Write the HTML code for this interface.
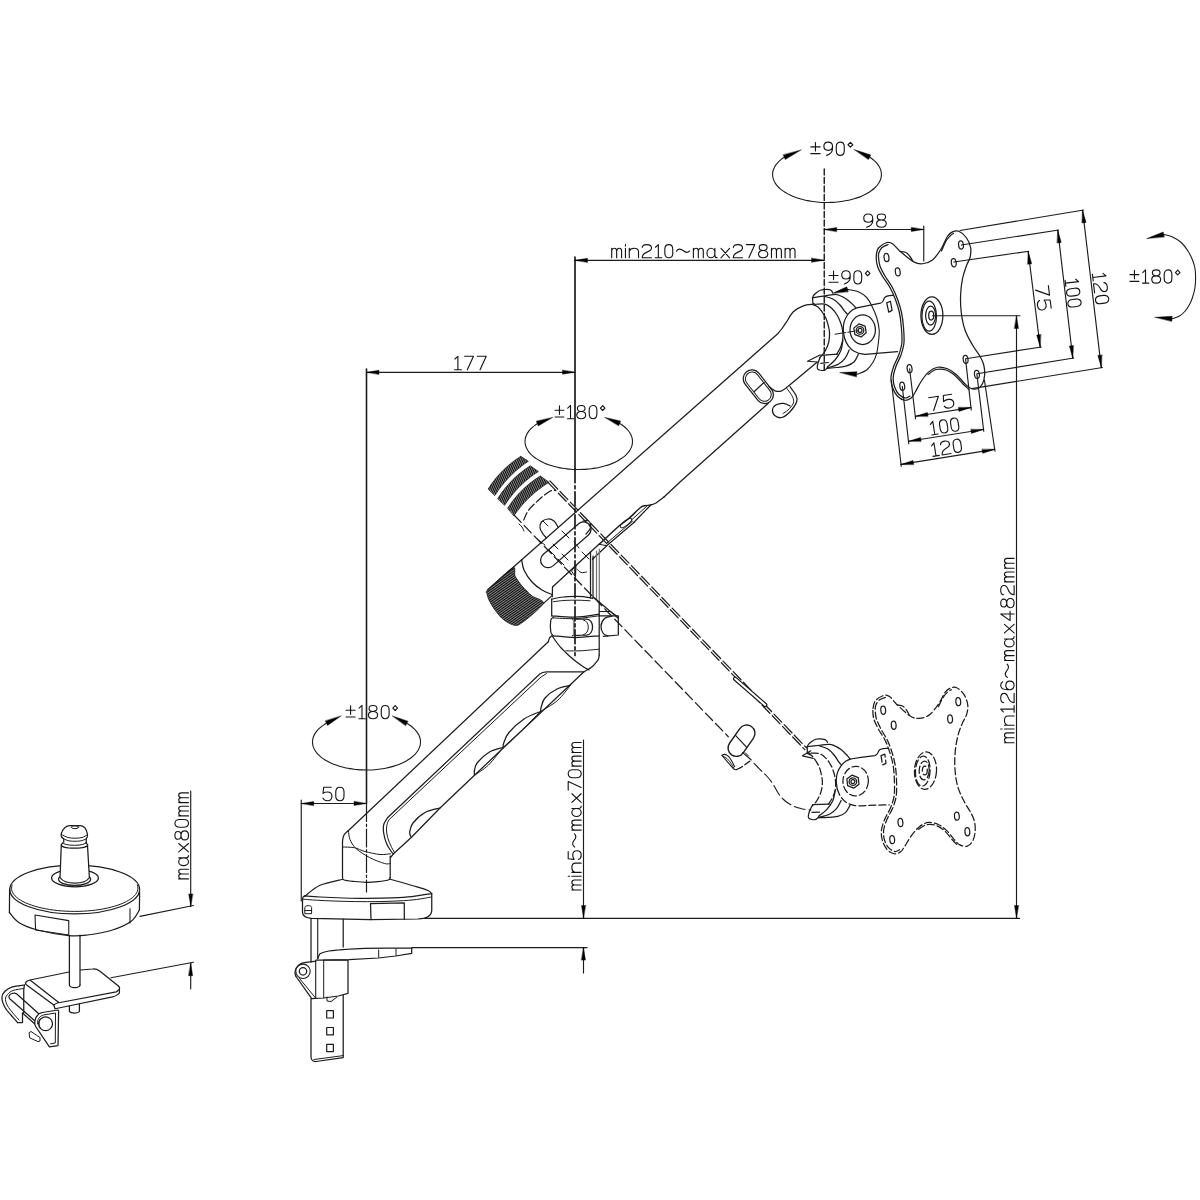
<!DOCTYPE html>
<html><head><meta charset="utf-8"><title>Monitor arm dimensions</title>
<style>html,body{margin:0;padding:0;background:#fff;font-family:"Liberation Sans",sans-serif}svg{display:block}</style>
</head><body>
<svg width="1200" height="1200" viewBox="0 0 1200 1200" stroke-linecap="round" stroke-linejoin="round">
<rect width="1200" height="1200" fill="#fff"/>
<defs><pattern id="kn1" width="2" height="6" patternUnits="userSpaceOnUse" patternTransform="rotate(-25)"><rect width="2" height="6" fill="#fff"/><rect width="1.5" height="6" fill="#0a0a0a"/></pattern><pattern id="kn2" width="2" height="6" patternUnits="userSpaceOnUse" patternTransform="rotate(55)"><rect width="2" height="6" fill="#fff"/><rect width="1.5" height="6" fill="#0a0a0a"/></pattern></defs>
<path d="M548.2,482.6 L804.8,749.6" fill="none" stroke="#1c1c1c" stroke-width="1.25" stroke-dasharray="11.2 3.5" />
<path d="M549.9,480.9 L806.5,747.9" fill="none" stroke="#1c1c1c" stroke-width="1.25" stroke-dasharray="11.2 3.5" />
<path d="M514,515 L728.3,736.7" fill="none" stroke="#1c1c1c" stroke-width="1.25" stroke-dasharray="10.3 4.2" />
<path d="M754,763.3 C755.17,764.5 758.88,768.38 761,770.5 C763.12,772.62 764.7,773.75 766.7,776 C768.7,778.25 771.07,781.12 773,784 C774.93,786.88 776.63,790.8 778.3,793.3 C779.97,795.8 781.33,797.33 783,799 C784.67,800.67 786.47,802.08 788.3,803.3 C790.13,804.52 792.05,805.47 794,806.3 C795.95,807.13 798,807.75 800,808.3 C802,808.85 804.2,809.32 806,809.6 C807.8,809.88 810,809.93 810.8,810" fill="none" stroke="#1c1c1c" stroke-width="1.1" stroke-dasharray="11 4" />
<path d="M-19.9,-1.6 L19.9,-1.6 A1.6,1.6 0 0 1 19.9,1.6 L-19.9,1.6 A1.6,1.6 0 0 1 -19.9,-1.6 Z" fill="#fff" stroke="#1c1c1c" stroke-width="1.2" transform="translate(750.2 691.9) rotate(41)"/>
<path d="M-8.95,-8.35 L8.95,-8.35 A8.35,8.35 0 0 1 8.95,8.35 L-8.95,8.35 A8.35,8.35 0 0 1 -8.95,-8.35 Z" fill="#fff" stroke="#1c1c1c" stroke-width="1.4" transform="translate(741.5 740.7) rotate(-55)"/>
<path d="M735.7,735.7 L746.7,747.3" fill="none" stroke="#1c1c1c" stroke-width="1.2" />
<path d="M722,755.3 L733.3,768.7 C735,770 736.5,769.8 737.3,769.3" fill="none" stroke="#1c1c1c" stroke-width="1.1" />
<path d="M722,755.3 C725,753 728.5,755.5 730.7,759.3 C732.5,762 733.5,764.5 734.7,766.7" fill="none" stroke="#1c1c1c" stroke-width="1.1" />
<path d="M723.3,756.5 C727,757 730.5,762 733.8,768" fill="none" stroke="#1c1c1c" stroke-width="0.9" />
<path d="M737.3,769.3 C738.2,768.8 740.37,767.85 742.7,766.3 C745.03,764.75 749.87,761.05 751.3,760" fill="none" stroke="#1c1c1c" stroke-width="1.2" stroke-dasharray="6 3" />
<path d="M742.7,752.7 L746.7,756 L751.3,760" fill="none" stroke="#1c1c1c" stroke-width="1.1" />
<path d="M745.3,752.7 L748.5,756" fill="none" stroke="#1c1c1c" stroke-width="1" />
<g transform="translate(-6.4 455) rotate(3 931.5 315.6)"><path d="M812.5,304.4 C813.42,304.83 816.33,305.65 818,307 C819.67,308.35 821.17,310.58 822.5,312.5 C823.83,314.42 825.07,316.42 826,318.5 C826.93,320.58 827.53,322.92 828.1,325 C828.67,327.08 829.18,328.92 829.4,331 C829.62,333.08 829.53,335.58 829.4,337.5 C829.27,339.42 829.02,340.83 828.6,342.5 C828.18,344.17 827.63,345.83 826.9,347.5 C826.17,349.17 825.35,350.83 824.2,352.5 C823.05,354.17 820.7,356.67 820,357.5" fill="none" stroke="#1c1c1c" stroke-width="1.25" stroke-dasharray="7 3" />
<path d="M812.5,297.9 C812.75,297.42 813.3,295.9 814,295 C814.7,294.1 815.57,293.33 816.7,292.5 C817.83,291.67 819.42,290.5 820.8,290 C822.18,289.5 823.6,289.57 825,289.5 C826.4,289.43 828.12,289.38 829.2,289.6 C830.28,289.82 830.95,290.32 831.5,290.8 C832.05,291.28 832.33,292.22 832.5,292.5" fill="none" stroke="#1c1c1c" stroke-width="1.25" />
<path d="M812.5,297.9 C814.58,297.55 821.53,296.35 825,295.8 C828.47,295.25 831.08,294.73 833.3,294.6 C835.52,294.47 836.07,294.23 838.3,295 C840.53,295.77 844.2,297.53 846.7,299.2 C849.2,300.87 851.78,303.55 853.3,305 C854.82,306.45 855.38,307.42 855.8,307.9" fill="none" stroke="#1c1c1c" stroke-width="1.25" />
<path d="M812.5,297.9 L812.9,303.3 L815.8,304.6" fill="none" stroke="#1c1c1c" stroke-width="1.25" />
<path d="M824.2,296.25 C825.72,296.74 830.67,297.74 833.3,299.2 C835.93,300.66 838.05,302.92 840,305 C841.95,307.08 843.75,310.17 845,311.7 C846.25,313.23 847.08,313.78 847.5,314.2" fill="none" stroke="#1c1c1c" stroke-width="1.25" />
<path d="M816.7,304.2 C818.08,304.2 822.5,303.52 825,304.2 C827.5,304.88 829.62,306.37 831.7,308.3 C833.78,310.23 835.98,313.3 837.5,315.8 C839.02,318.3 839.97,320.93 840.8,323.3 C841.63,325.67 842.15,327.5 842.5,330 C842.85,332.5 843.18,335.52 842.9,338.3 C842.62,341.08 841.83,344.05 840.8,346.7 C839.77,349.35 837.38,352.95 836.7,354.2" fill="none" stroke="#1c1c1c" stroke-width="1.25" stroke-dasharray="7 3" />
<path d="M820.8,355.4 L837.5,354.2" fill="none" stroke="#1c1c1c" stroke-width="1.25" />
<path d="M858.3,354.2 C857.62,355.45 856.13,359.77 854.2,361.7 C852.27,363.63 849.62,364.83 846.7,365.8 C843.78,366.77 839.9,367.08 836.7,367.5 C833.5,367.92 829.03,368.17 827.5,368.3" fill="none" stroke="#1c1c1c" stroke-width="1.25" />
<path d="M849.2,350 C848.5,351.38 846.82,355.93 845,358.3 C843.18,360.67 841.22,362.6 838.3,364.2 C835.38,365.8 829.3,367.28 827.5,367.9" fill="none" stroke="#1c1c1c" stroke-width="1.25" />
<path d="M842.9,340 C842.55,341.8 842.12,347.47 840.8,350.8 C839.48,354.13 837.22,357.35 835,360 C832.78,362.65 828.75,365.58 827.5,366.7" fill="none" stroke="#1c1c1c" stroke-width="1.25" />
<path d="M820,357.5 C819.58,358.75 817.85,363.05 817.5,365 C817.15,366.95 816.78,368.3 817.9,369.2 C819.02,370.1 822.6,370.68 824.2,370.4 C825.8,370.12 826.95,367.98 827.5,367.5" fill="none" stroke="#1c1c1c" stroke-width="1.25" />
<path d="M820.8,363.3 L828.3,362.5" fill="none" stroke="#1c1c1c" stroke-width="1.25" />
<path d="M816.32,301.81 L808.29,307.24 L819.21,309.17" fill="none" stroke="#1c1c1c" stroke-width="1.25" />
<path d="M897,295.4 L892.5,295.4 C888,295.4 885.5,296 884.2,298.3 C883.3,300.5 883.3,302.4 880.5,303.2 L866.7,305.8 L856.7,307.9 C855.87,308.32 853.23,309.22 851.7,310.4 C850.17,311.58 848.75,313.12 847.5,315 C846.25,316.88 844.9,319.2 844.2,321.7 C843.5,324.2 843.23,327.23 843.3,330 C843.37,332.77 843.77,335.67 844.6,338.3 C845.43,340.93 846.7,343.64 848.3,345.8 C849.9,347.96 851.7,349.85 854.2,351.25 C856.7,352.65 859.55,353.86 863.3,354.2 C867.05,354.54 874.47,353.45 876.7,353.3 L897.5,351.7" fill="#fff" stroke="none" stroke-width="0" />
<path d="M897,295.4 L892.5,295.4 C888,295.4 885.5,296 884.2,298.3 C883.3,300.5 883.3,302.4 880.5,303.2 L866.7,305.8 L856.7,307.9" fill="none" stroke="#1c1c1c" stroke-width="1.25" />
<path d="M856.7,307.9 C855.87,308.32 853.23,309.22 851.7,310.4 C850.17,311.58 848.75,313.12 847.5,315 C846.25,316.88 844.9,319.2 844.2,321.7 C843.5,324.2 843.23,327.23 843.3,330 C843.37,332.77 844.38,336.92 844.6,338.3" fill="none" stroke="#1c1c1c" stroke-width="1.25" />
<path d="M844.6,338.3 C845.22,339.55 846.7,343.64 848.3,345.8 C849.9,347.96 851.7,349.85 854.2,351.25 C856.7,352.65 859.55,353.86 863.3,354.2 C867.05,354.54 874.47,353.45 876.7,353.3 L897.5,351.7" fill="none" stroke="#1c1c1c" stroke-width="1.25" stroke-dasharray="7 3" />
<path d="M886.7,302.9 L890.4,301.25 L892.1,310.4 L888.75,312.1 L886.7,302.9" fill="none" stroke="#1c1c1c" stroke-width="1.25" stroke-dasharray="7 3" />
<path d="M876.25,256.25 C876.42,253.21 876.73,250.29 878.5,248 C880.27,245.71 884.57,243.21 886.9,242.5 C889.23,241.79 890.32,242.29 892.5,243.75 C894.68,245.21 896.46,248.22 900,251.25 C903.54,254.28 910,259.82 913.75,261.9 C917.5,263.98 919.38,264.07 922.5,263.75 C925.62,263.43 929.38,262.5 932.5,260 C935.62,257.5 938.75,252.71 941.25,248.75 C943.75,244.79 945.62,239.06 947.5,236.25 C949.38,233.44 950.62,232.73 952.5,231.9 C954.38,231.07 956.46,230.32 958.75,231.25 C961.04,232.18 964.27,234.79 966.25,237.5 C968.23,240.21 969.98,244.17 970.6,247.5 C971.23,250.83 970.73,254.38 970,257.5 C969.27,260.62 967.5,262.71 966.25,266.25 C965,269.79 963.44,273.96 962.5,278.75 C961.56,283.54 960.81,289.38 960.6,295 C960.39,300.62 960.52,306.67 961.25,312.5 C961.98,318.33 963.12,324.58 965,330 C966.88,335.42 970,340.62 972.5,345 C975,349.38 978.12,352.92 980,356.25 C981.88,359.58 982.98,361.88 983.75,365 C984.52,368.12 984.81,371.88 984.6,375 C984.39,378.12 983.68,381.46 982.5,383.75 C981.32,386.04 979.58,388.04 977.5,388.75 C975.42,389.46 972.29,389.04 970,388 C967.71,386.96 966.04,384.77 963.75,382.5 C961.46,380.23 958.96,376.69 956.25,374.4 C953.54,372.11 950.62,369.94 947.5,368.75 C944.38,367.56 940.62,366.73 937.5,367.25 C934.38,367.77 931.46,369.57 928.75,371.9 C926.04,374.23 923.54,377.82 921.25,381.25 C918.96,384.68 916.67,389.71 915,392.5 C913.33,395.29 912.92,396.71 911.25,398 C909.58,399.29 907.29,400.54 905,400.25 C902.71,399.96 899.58,398.38 897.5,396.25 C895.42,394.12 893.58,390.62 892.5,387.5 C891.42,384.38 890.79,381.04 891,377.5 C891.21,373.96 892.46,370 893.75,366.25 C895.04,362.5 897.39,358.96 898.75,355 C900.11,351.04 901.48,347.29 901.9,342.5 C902.32,337.71 901.67,331.25 901.25,326.25 C900.83,321.25 900.34,316.88 899.4,312.5 C898.46,308.12 897.17,304.17 895.6,300 C894.03,295.83 892.18,291.46 890,287.5 C887.82,283.54 884.58,279.79 882.5,276.25 C880.42,272.71 878.54,269.58 877.5,266.25 C876.46,262.92 876.08,259.29 876.25,256.25 Z" fill="#fff" stroke="#1c1c1c" stroke-width="1.25" stroke-dasharray="7 3" />
<path d="M888,244.6 C887,245.08 883.53,246.1 882,247.5 C880.47,248.9 879.37,251.25 878.8,253 C878.23,254.75 878.4,255.83 878.6,258 C878.8,260.17 878.93,263 880,266 C881.07,269 882.93,272.42 885,276 C887.07,279.58 890.27,283.5 892.4,287.5 C894.53,291.5 896.28,295.83 897.8,300 C899.32,304.17 900.57,308.12 901.5,312.5 C902.43,316.88 902.98,321.25 903.4,326.25 C903.82,331.25 904.4,337.71 904,342.5 C903.6,347.29 902.33,351.04 901,355 C899.67,358.96 897.3,362.5 896,366.25 C894.7,370 893.43,374.04 893.2,377.5 C892.97,380.96 893.63,384.17 894.6,387 C895.57,389.83 897.18,392.67 899,394.5 C900.82,396.33 903.67,397.75 905.5,398 C907.33,398.25 909.25,396.33 910,396" fill="none" stroke="#1c1c1c" stroke-width="1.25" stroke-dasharray="7 3" />
<path d="M941.5,251 C942.25,249.33 944.58,243.5 946,241 C947.42,238.5 948.75,237.27 950,236 C951.25,234.73 952.92,233.83 953.5,233.4" fill="none" stroke="#1c1c1c" stroke-width="1.25" stroke-dasharray="7 3" />
<path d="M928,374.5 C929.33,373.67 933,370.25 936,369.5 C939,368.75 942.83,369 946,370 C949.17,371 952.25,373.25 955,375.5 C957.75,377.75 960.17,381.17 962.5,383.5 C964.83,385.83 967.92,388.5 969,389.5" fill="none" stroke="#1c1c1c" stroke-width="1.25" stroke-dasharray="7 3" />
<path d="M900.5,251.5 C901.42,251.67 904.42,251.67 906,252.5 C907.58,253.33 908.87,255.08 910,256.5 C911.13,257.92 912.33,260.25 912.8,261" fill="none" stroke="#1c1c1c" stroke-width="1.25" stroke-dasharray="7 3" />
<ellipse cx="886.5" cy="257.5" rx="2.4" ry="4.1" fill="none" stroke="#1c1c1c" stroke-width="1.25" transform="rotate(-8 886.5 257.5)"/>
<ellipse cx="897.75" cy="271.9" rx="2.4" ry="4.1" fill="none" stroke="#1c1c1c" stroke-width="1.25" transform="rotate(-8 897.75 271.9)"/>
<ellipse cx="961" cy="245" rx="2.4" ry="4.1" fill="none" stroke="#1c1c1c" stroke-width="1.25" transform="rotate(-8 961 245)"/>
<ellipse cx="953.75" cy="262.75" rx="2.4" ry="4.1" fill="none" stroke="#1c1c1c" stroke-width="1.25" transform="rotate(-8 953.75 262.75)"/>
<ellipse cx="902.25" cy="386.25" rx="2.4" ry="4.1" fill="none" stroke="#1c1c1c" stroke-width="1.25" transform="rotate(-8 902.25 386.25)"/>
<ellipse cx="909.6" cy="368.75" rx="2.4" ry="4.1" fill="none" stroke="#1c1c1c" stroke-width="1.25" transform="rotate(-8 909.6 368.75)"/>
<ellipse cx="965.6" cy="359.4" rx="2.4" ry="4.1" fill="none" stroke="#1c1c1c" stroke-width="1.25" transform="rotate(-8 965.6 359.4)"/>
<ellipse cx="976.9" cy="374.4" rx="2.4" ry="4.1" fill="none" stroke="#1c1c1c" stroke-width="1.25" transform="rotate(-8 976.9 374.4)"/>
<ellipse cx="931.9" cy="315.6" rx="11" ry="18.7" fill="none" stroke="#1c1c1c" stroke-width="1.25" stroke-dasharray="7 3"/>
<ellipse cx="929.2" cy="316.2" rx="7.3" ry="15" fill="none" stroke="#1c1c1c" stroke-width="1.25" stroke-dasharray="7 3"/>
<ellipse cx="930.6" cy="315.6" rx="5" ry="9.4" fill="none" stroke="#1c1c1c" stroke-width="1.25" stroke-dasharray="7 3"/>
<ellipse cx="931.2" cy="315.6" rx="2.5" ry="4.4" fill="none" stroke="#1c1c1c" stroke-width="1.25" stroke-dasharray="7 3"/>
<ellipse cx="862.7" cy="329.75" rx="12.7" ry="14.8" fill="none" stroke="#1c1c1c" stroke-width="1.25" stroke-dasharray="7 3"/>
<path d="M866.2,332.66 L861.15,336.9 L854.94,334.64 L853.8,328.14 L858.85,323.9 L865.06,326.16 Z" fill="none" stroke="#1c1c1c" stroke-width="1.25" />
<ellipse cx="860" cy="330.4" rx="3.8" ry="3.8" fill="none" stroke="#1c1c1c" stroke-width="1.25"/>
<ellipse cx="860" cy="330.4" rx="2" ry="2" fill="none" stroke="#1c1c1c" stroke-width="1.25"/></g>
<path d="M521.7,559.8 L778,333.5 C778.67,332.67 780.55,330.47 782,328.5 C783.45,326.53 784.82,324.5 786.7,321.7 C788.58,318.9 790.53,314.35 793.3,311.7 C796.07,309.05 799.97,307.05 803.3,305.8 C806.63,304.55 811.63,304.47 813.3,304.2" fill="none" stroke="#1c1c1c" stroke-width="1.25" />
<path d="M816.7,362.5 L788.5,386" fill="none" stroke="#1c1c1c" stroke-width="1.25" />
<path d="M768.3,403.3 L680,482 L664,497" fill="none" stroke="#1c1c1c" stroke-width="1.25" />
<path d="M664,497 C663.33,497.5 661.33,499 660,500 C658.67,501 657.25,502.25 656,503 C654.75,503.75 653.08,504.25 652.5,504.5" fill="none" stroke="#1c1c1c" stroke-width="1.25" />
<path d="M652.5,504.5 C651.75,504.65 649.25,505.22 648,505.4 C646.75,505.58 645.5,505.57 645,505.6" fill="none" stroke="#1c1c1c" stroke-width="1.25" />
<path d="M645,505.6 C644.25,505.92 643.25,505.31 640.5,507.5 C637.75,509.69 632.12,515.62 628.5,518.75 C624.88,521.88 623.62,522 618.75,526.25 C613.88,530.5 602.5,541.25 599.25,544.25" fill="none" stroke="#1c1c1c" stroke-width="1.5" />
<path d="M647,506 L631.5,520" fill="none" stroke="#1c1c1c" stroke-width="1" />
<path d="M651,504.8 L633.75,522.5" fill="none" stroke="#1c1c1c" stroke-width="1.25" />
<path d="M634.5,522 L607.5,545 L592.5,559.25" fill="none" stroke="#1c1c1c" stroke-width="1.2" />
<path d="M632.5,521.2 L606,543.8" fill="none" stroke="#1c1c1c" stroke-width="1" />
<ellipse cx="626" cy="523" rx="7" ry="2.3" fill="none" stroke="#1c1c1c" stroke-width="1" transform="rotate(-38 626 523)"/>
<path d="M599.25,544.25 L606.75,545.75" fill="none" stroke="#1c1c1c" stroke-width="1" />
<path d="M552.5,587 L599.5,543.8" fill="none" stroke="#1c1c1c" stroke-width="1.25" />
<path d="M-10.25,-8.75 L10.25,-8.75 A8.75,8.75 0 0 1 10.25,8.75 L-10.25,8.75 A8.75,8.75 0 0 1 -10.25,-8.75 Z" fill="#fff" stroke="#1c1c1c" stroke-width="1.25" transform="translate(758.3 386.7) rotate(52)"/>
<path d="M-10,-6.75 L10,-6.75 A6.75,6.75 0 0 1 10,6.75 L-10,6.75 A6.75,6.75 0 0 1 -10,-6.75 Z" fill="none" stroke="#1c1c1c" stroke-width="1" transform="translate(758.3 386.7) rotate(52)"/>
<path d="M754,391.7 L764,382.5" fill="none" stroke="#1c1c1c" stroke-width="1.25" />
<path d="M769,386.7 C770,387.38 772.88,390.12 775,390.8 C777.12,391.48 779.62,391.48 781.7,390.8 C783.78,390.12 786.53,387.38 787.5,386.7" fill="none" stroke="#1c1c1c" stroke-width="1.25" />
<path d="M790,386.7 C790.97,388.08 794.68,392.5 795.8,395 C796.92,397.5 797.67,398.92 796.7,401.7 C795.73,404.48 792.5,409.07 790,411.7 C787.5,414.33 784.2,416.82 781.7,417.5 C779.2,418.18 776.53,417.05 775,415.8 C773.47,414.55 772.37,411.8 772.5,410 C772.63,408.2 774,406.12 775.8,405 C777.6,403.88 780.93,403.17 783.3,403.3 C785.67,403.43 788.88,405.38 790,405.8" fill="none" stroke="#1c1c1c" stroke-width="1.25" />
<path d="M786.7,388.3 C787.67,389.7 791.4,394.2 792.5,396.7 C793.6,399.2 794.05,401.08 793.3,403.3 C792.55,405.52 789.72,408.3 788,410 C786.28,411.7 783.83,412.92 783,413.5" fill="none" stroke="#1c1c1c" stroke-width="1" />
<path d="M548.3,641.7 L348.5,830.5" fill="none" stroke="#1c1c1c" stroke-width="1.25" />
<path d="M348.5,830.5 C347.75,831.25 345,833.25 344,835 C343,836.75 342.75,840 342.5,841" fill="none" stroke="#1c1c1c" stroke-width="1.25" />
<path d="M584,671.75 L546.5,671.75 C542,671.75 541,673 539,674.75 L387.5,817.75 C386.88,818.88 384.38,821.88 383.75,824.5 C383.12,827.12 383.25,830.25 383.75,833.5 C384.25,836.75 385.5,841 386.75,844 C388,847 390.12,849.88 391.25,851.5 C392.38,853.12 393.12,853.38 393.5,853.75" fill="none" stroke="#1c1c1c" stroke-width="1.25" />
<path d="M546.5,673.6 L541,677 L389.2,819.5 C384.5,826 385.5,838 394.5,852.6" fill="none" stroke="#1c1c1c" stroke-width="1" />
<path d="M590,668.3 L584,671.75 L474.5,775.25 L440,808 L411.5,837.25 L393.5,853.75 L390.5,857.5" fill="none" stroke="#1c1c1c" stroke-width="1.25" />
<path d="M570.5,685.25 C568.25,685.88 561.25,686.88 557,689 C552.75,691.12 547.62,695 545,698 C542.38,701 542,704.75 541.25,707 C540.5,709.25 540.62,710.75 540.5,711.5" fill="none" stroke="#1c1c1c" stroke-width="1.25" />
<path d="M540.5,711.5 C537.75,712.75 529.25,715.5 524,719 C518.75,722.5 512.38,728.5 509,732.5 C505.62,736.5 504.75,740.5 503.75,743 C502.75,745.5 503.12,746.75 503,747.5" fill="none" stroke="#1c1c1c" stroke-width="1.25" />
<path d="M503,747.5 C500.75,748.25 493.75,749.5 489.5,752 C485.25,754.5 480,759.5 477.5,762.5 C475,765.5 475,767.88 474.5,770 C474,772.12 474.5,774.38 474.5,775.25" fill="none" stroke="#1c1c1c" stroke-width="1.25" />
<path d="M440,808 C437.5,808.75 429.5,810 425,812.5 C420.5,815 415.55,819.75 413,823 C410.45,826.25 410.07,829.75 409.7,832 C409.32,834.25 410.57,835.75 410.75,836.5" fill="none" stroke="#1c1c1c" stroke-width="1.25" />
<path d="M570.5,685.25 C568.33,687.79 562.5,696.12 557.5,700.5 C552.5,704.88 543.33,709.67 540.5,711.5" fill="none" stroke="#1c1c1c" stroke-width="1" />
<path d="M540.5,711.5 C537.08,714.92 526.25,726 520,732 C513.75,738 505.83,744.92 503,747.5" fill="none" stroke="#1c1c1c" stroke-width="1" />
<path d="M503,747.5 C500.58,750.42 493.25,760.38 488.5,765 C483.75,769.62 476.83,773.54 474.5,775.25" fill="none" stroke="#1c1c1c" stroke-width="1" />
<path d="M342.5,841 L342.5,877" fill="none" stroke="#1c1c1c" stroke-width="1.25" />
<path d="M390.2,856 L390.2,877.75" fill="none" stroke="#1c1c1c" stroke-width="1.25" />
<path d="M342.5,877 C342.75,877.5 341.92,879.25 344,880 C346.08,880.75 351.25,881.12 355,881.5 C358.75,881.88 362.67,882.23 366.5,882.25 C370.33,882.27 374.38,881.98 378,881.6 C381.62,881.23 386.22,880.64 388.25,880 C390.28,879.36 389.88,878.12 390.2,877.75" fill="none" stroke="#1c1c1c" stroke-width="1.25" />
<path d="M342.5,847 C344.5,847.12 350.75,847 354.5,847.75 C358.25,848.5 360.75,850.38 365,851.5 C369.25,852.62 375.75,854.12 380,854.5 C384.25,854.88 388.75,853.88 390.5,853.75" fill="none" stroke="#1c1c1c" stroke-width="1" />
<path d="M348.5,831.25 C348.75,832.62 348.75,836.62 350,839.5 C351.25,842.38 352.75,845.5 356,848.5 C359.25,851.5 364.75,855 369.5,857.5 C374.25,860 381.05,862.5 384.5,863.5 C387.95,864.5 389.25,863.5 390.2,863.5" fill="none" stroke="#1c1c1c" stroke-width="1" />
<path d="M304.5,896.5 C307.08,894.62 313.67,888.12 320,885.25 C326.33,882.38 338.75,880.25 342.5,879.25" fill="none" stroke="#1c1c1c" stroke-width="1.25" />
<path d="M390.2,879.25 C394.17,880.38 407.7,884.12 414,886 C420.3,887.88 425.08,889.25 428,890.5 C430.92,891.75 430.92,893 431.5,893.5" fill="none" stroke="#1c1c1c" stroke-width="1.25" />
<path d="M304.5,895.8 C307.08,896 313.58,896.63 320,897 C326.42,897.37 335.05,897.77 343,898 C350.95,898.23 359.53,898.42 367.7,898.4 C375.87,898.38 384.62,898.2 392,897.9 C399.38,897.6 405.38,897.32 412,896.6 C418.62,895.88 428.42,894.1 431.7,893.6" fill="none" stroke="#1c1c1c" stroke-width="1.25" />
<path d="M302.8,899.2 C305.67,899.4 313.3,900.05 320,900.4 C326.7,900.75 335.05,901.08 343,901.3 C350.95,901.52 359.53,901.72 367.7,901.7 C375.87,901.68 384.28,901.52 392,901.2 C399.72,900.88 407.4,900.5 414,899.8 C420.6,899.1 428.67,897.47 431.6,897" fill="none" stroke="#1c1c1c" stroke-width="1" />
<path d="M304.5,895.8 C303,896.5 302.5,897.5 302.5,899.5 L302.5,912 C302.5,916 305,918 311.7,918.3 L370,919.6 L418,919 C427,918.6 431.75,916 431.75,910 L431.75,893.3" fill="none" stroke="#1c1c1c" stroke-width="1.25" />
<path d="M371,919.6 L370.5,903.6 L404.3,902.8 L404.3,919.3" fill="none" stroke="#1c1c1c" stroke-width="1.25" />
<path d="M304.8,913.3 L304.8,907.5 C304.8,905 311.6,905 311.6,907.5 L311.6,913.3 Z" fill="none" stroke="#1c1c1c" stroke-width="1" />
<path d="M304.8,910.5 L311.6,910.5" fill="none" stroke="#1c1c1c" stroke-width="1" />
<path d="M424,918.4 L1019.5,918.4" fill="none" stroke="#1c1c1c" stroke-width="1.25" />
<path d="M412,947.6 L587,947.6" fill="none" stroke="#1c1c1c" stroke-width="1.25" />
<path d="M311,918.5 L311,962" fill="none" stroke="#1c1c1c" stroke-width="1.25" />
<path d="M317.7,918.5 L317.7,958.7" fill="none" stroke="#1c1c1c" stroke-width="1.1" />
<path d="M343.2,919 L343.2,947" fill="none" stroke="#1c1c1c" stroke-width="1.25" />
<path d="M317.7,958.7 C317.92,958.17 318.45,956.4 319,955.5 C319.55,954.6 319.33,954.05 321,953.3 C322.67,952.55 326.12,951.55 329,951 C331.88,950.45 332.3,950.45 338.3,950 C344.3,949.55 352.77,948.6 365,948.3 C377.23,948 403.92,948.22 411.7,948.2" fill="none" stroke="#1c1c1c" stroke-width="1.25" />
<path d="M411.7,948.2 L411.7,953.3 L395.7,956 L378.3,958 L349,959.7 L323.7,960" fill="none" stroke="#1c1c1c" stroke-width="1.25" />
<path d="M378.7,950 L378.7,957.3" fill="none" stroke="#1c1c1c" stroke-width="1" />
<path d="M396,949 L396,955.5" fill="none" stroke="#1c1c1c" stroke-width="1" />
<path d="M315.7,960 L348,960 L348,993.3 L338.3,996 L323.7,998 L311.7,998.7" fill="none" stroke="#1c1c1c" stroke-width="1.25" />
<path d="M323.7,960 L323.7,998" fill="none" stroke="#1c1c1c" stroke-width="1" />
<path d="M315.7,960.5 L315.7,998.3" fill="none" stroke="#1c1c1c" stroke-width="1.1" />
<path d="M315.7,961.3 C314.42,961.45 310.45,961.82 308,962.2 C305.55,962.58 302.92,962.72 301,963.6 C299.08,964.48 297.5,966.1 296.5,967.5 C295.5,968.9 295.13,970.58 295,972 C294.87,973.42 295.58,975.33 295.7,976" fill="none" stroke="#1c1c1c" stroke-width="1.25" />
<path d="M295.7,976 L311.7,998.7" fill="none" stroke="#1c1c1c" stroke-width="1.25" />
<path d="M299.7,978.7 L315.2,997.6" fill="none" stroke="#1c1c1c" stroke-width="1" />
<ellipse cx="303" cy="971.3" rx="7.2" ry="7.2" fill="none" stroke="#1c1c1c" stroke-width="1.1"/>
<ellipse cx="303" cy="971.3" rx="3.7" ry="3.7" fill="none" stroke="#1c1c1c" stroke-width="1.25"/>
<path d="M311,998.7 L311,1056.5 C311,1060 313,1061.8 316,1061.5 L343.2,1057.6 L343.2,995" fill="none" stroke="#1c1c1c" stroke-width="1.25" />
<path d="M314,1059.5 L343.2,1055.6" fill="none" stroke="#1c1c1c" stroke-width="1" />
<path d="M326.7,1010.7 L333.4,1010.7 L333.4,1018 L326.7,1018 L326.7,1010.7" fill="none" stroke="#1c1c1c" stroke-width="1.2" />
<path d="M326.7,1027.5 L333.4,1027.5 L333.4,1034.8 L326.7,1034.8 L326.7,1027.5" fill="none" stroke="#1c1c1c" stroke-width="1.2" />
<path d="M326.7,1044.3 L333.4,1044.3 L333.4,1051.6 L326.7,1051.6 L326.7,1044.3" fill="none" stroke="#1c1c1c" stroke-width="1.2" />
<path d="M327,997 L327,1001 L331,1001.5 L337,997" fill="none" stroke="#1c1c1c" stroke-width="1" />
<path d="M366.5,369 L366.5,803.5" fill="none" stroke="#1c1c1c" stroke-width="1.6" />
<path d="M366.5,803.5 L366.5,892" fill="none" stroke="#1c1c1c" stroke-width="1.2" stroke-dasharray="18 2.5 2.5 2.5" />
<path d="M590.5,552 L590.5,598" fill="none" stroke="#1c1c1c" stroke-width="1.25" />
<path d="M593,556 L593,598" fill="none" stroke="#1c1c1c" stroke-width="1.25" />
<path d="M596.5,551 L596.5,600" fill="none" stroke="#777" stroke-width="1.25" />
<path d="M599.3,549 L599.3,601" fill="none" stroke="#777" stroke-width="1.25" />
<path d="M-23.5,-7.5 L23.5,-7.5 A7.5,7.5 0 0 1 23.5,7.5 L-23.5,7.5 A7.5,7.5 0 0 1 -23.5,-7.5 Z" fill="none" stroke="#1c1c1c" stroke-width="1.25" transform="translate(565.8 544.8) rotate(-41)"/>
<path d="M558,527 C557.33,526 555.67,522.33 554,521 C552.33,519.67 550.08,518.83 548,519 C545.92,519.17 542.83,520.5 541.5,522 C540.17,523.5 539.75,526 540,528 C540.25,530 541.92,532.33 543,534 C544.08,535.67 545.92,537.33 546.5,538" fill="none" stroke="#1c1c1c" stroke-width="1.25" />
<path d="M583,521 C583.83,520.92 586.75,520 588,520.5 C589.25,521 590.17,522.58 590.5,524 C590.83,525.42 590.75,527.33 590,529 C589.25,530.67 586.67,533.17 586,534" fill="none" stroke="#1c1c1c" stroke-width="1.25" />
<path d="M537,539 L545,545" fill="none" stroke="#1c1c1c" stroke-width="1" />
<path d="M549,550 L555,556" fill="none" stroke="#1c1c1c" stroke-width="1" />
<path d="M562,531 L569,538" fill="none" stroke="#1c1c1c" stroke-width="1" />
<path d="M574,542 L579,548" fill="none" stroke="#1c1c1c" stroke-width="1" />
<path d="M582,552 L589,559" fill="none" stroke="#1c1c1c" stroke-width="1" />
<path d="M553,544 L558,549" fill="none" stroke="#1c1c1c" stroke-width="1" />
<path d="M562,554 L568,560" fill="none" stroke="#1c1c1c" stroke-width="1" />
<path d="M558,559 L564,565" fill="none" stroke="#1c1c1c" stroke-width="1" />
<path d="M543,521 L548,526" fill="none" stroke="#1c1c1c" stroke-width="1" />
<path d="M571.5,571 L576,565 L575.5,577 L571.5,571" fill="none" stroke="#1c1c1c" stroke-width="1" />
<path d="M577,569 C577.67,569.58 579.42,572 581,572.5 C582.58,573 585.58,572.08 586.5,572" fill="none" stroke="#1c1c1c" stroke-width="1" />
<path d="M523.75,520 C524.58,518.33 526.04,513.54 528.75,510 C531.46,506.46 536.46,501.88 540,498.75 C543.54,495.62 547.42,492.66 550,491.25 C552.58,489.84 554.58,490.46 555.5,490.3" fill="none" stroke="#1c1c1c" stroke-width="1.25" stroke-dasharray="8 3" />
<path d="M519,524 C519.5,524.5 521.17,525.83 522,527 C522.83,528.17 523.67,530.33 524,531" fill="none" stroke="#1c1c1c" stroke-width="1" />
<path d="M488.3,488.8 C489.03,487.73 491.16,484.44 492.7,482.36 C494.23,480.28 495.83,478.27 497.5,476.33 C499.17,474.39 500.91,472.52 502.71,470.71 C504.52,468.91 506.39,467.17 508.33,465.5 C510.27,463.83 512.28,462.23 514.36,460.7 C516.44,459.16 519.73,457.03 520.8,456.3 L528.3,461.3 C527.2,462.07 523.85,464.33 521.73,465.95 C519.61,467.56 517.55,469.25 515.57,471 C513.58,472.75 511.66,474.57 509.81,476.46 C507.96,478.35 506.18,480.31 504.47,482.33 C502.75,484.36 501.11,486.45 499.53,488.61 C497.95,490.77 495.75,494.19 495,495.3 Z" fill="url(#kn1)" stroke="#1c1c1c" stroke-width="0.8" />
<path d="M497.8,498.5 C498.53,497.42 500.66,494.12 502.2,492.03 C503.73,489.94 505.33,487.92 507,485.97 C508.67,484.01 510.41,482.13 512.21,480.31 C514.02,478.5 515.89,476.75 517.83,475.07 C519.77,473.39 521.78,471.77 523.86,470.23 C525.94,468.68 529.23,466.54 530.3,465.8 L538.3,471.5 C537.2,472.26 533.83,474.47 531.7,476.06 C529.56,477.65 527.5,479.31 525.5,481.03 C523.5,482.76 521.57,484.55 519.71,486.41 C517.85,488.27 516.06,490.2 514.33,492.2 C512.61,494.2 510.95,496.26 509.36,498.4 C507.77,500.53 505.56,503.9 504.8,505 Z" fill="url(#kn1)" stroke="#1c1c1c" stroke-width="0.8" />
<path d="M507.8,508 C508.53,506.94 510.66,503.7 512.2,501.65 C513.73,499.6 515.33,497.61 517,495.7 C518.67,493.79 520.41,491.94 522.21,490.16 C524.02,488.38 525.89,486.67 527.83,485.03 C529.77,483.39 531.78,481.82 533.86,480.31 C535.94,478.81 539.23,476.72 540.3,476 L549,482.3 C547.86,483.05 544.36,485.25 542.15,486.83 C539.93,488.41 537.78,490.05 535.7,491.77 C533.62,493.48 531.61,495.26 529.66,497.11 C527.72,498.96 525.84,500.88 524.03,502.87 C522.22,504.85 520.48,506.91 518.81,509.03 C517.14,511.15 514.8,514.5 514,515.6 Z" fill="url(#kn1)" stroke="#1c1c1c" stroke-width="0.8" />
<path d="M487.8,589.7 C490.83,586.67 509.83,569.1 513,567.5 C516.17,565.9 513.95,573.84 515,576 C516.05,578.16 520.02,583.67 522,586 C523.98,588.33 529.51,593.95 532,596 C534.49,598.05 544.9,600.22 543.3,603.6 C541.7,606.98 522.88,623.09 518.3,625 C513.71,626.91 506.72,621.75 504,620 C501.28,618.25 496.75,612.33 495,610 C493.25,607.67 489.93,601.92 489,600 C488.07,598.08 487.14,594.7 487,593.5 C486.86,592.3 484.77,592.73 487.8,589.7 Z" fill="url(#kn2)" stroke="#1c1c1c" stroke-width="0.9" />
<path d="M487.8,589.7 L521.7,559.8" fill="none" stroke="#1c1c1c" stroke-width="1.25" />
<path d="M543.3,603.6 L552,595.6" fill="none" stroke="#1c1c1c" stroke-width="1.25" />
<path d="M521.7,559.8 C522.08,561.5 522.28,566.3 524,570 C525.72,573.7 529,578.67 532,582 C535,585.33 538.67,587.92 542,590 C545.33,592.08 550.33,593.75 552,594.5" fill="none" stroke="#1c1c1c" stroke-width="1.25" />
<path d="M552.3,596.7 L552.5,587" fill="none" stroke="#1c1c1c" stroke-width="1.25" />
<path d="M551.7,599.2 C553.63,598.83 559.42,597.47 563.3,597 C567.18,596.53 571.67,596.45 575,596.4 C578.33,596.35 580.38,596.38 583.3,596.7 C586.22,597.02 590.97,598.03 592.5,598.3" fill="none" stroke="#1c1c1c" stroke-width="1.25" />
<path d="M553.3,601.7 C555.25,601.48 560.88,600.65 565,600.4 C569.12,600.15 573.83,600.13 578,600.2 C582.17,600.27 588,600.7 590,600.8" fill="none" stroke="#1c1c1c" stroke-width="1" />
<path d="M551.7,599.2 L551.7,615.8" fill="none" stroke="#1c1c1c" stroke-width="1.25" />
<path d="M599.2,601.7 L599.2,655" fill="none" stroke="#1c1c1c" stroke-width="1.25" />
<path d="M551.7,615.8 C555.58,616.03 567.08,617.47 575,617.2 C582.92,616.93 595.17,614.7 599.2,614.2" fill="none" stroke="#1c1c1c" stroke-width="1.25" />
<path d="M553.3,617.5 C552.88,617.92 551.22,617.58 550.8,620 C550.38,622.42 550.38,629.37 550.8,632 C551.22,634.63 552.88,635.17 553.3,635.8" fill="none" stroke="#1c1c1c" stroke-width="1.25" />
<path d="M553.3,617.9 C556.92,618.02 567.35,618.95 575,618.6 C582.65,618.25 595.17,616.27 599.2,615.8" fill="none" stroke="#1c1c1c" stroke-width="1" />
<path d="M553.3,635.8 C556.92,636.1 567.35,637.6 575,637.6 C582.65,637.6 595.17,636.1 599.2,635.8" fill="none" stroke="#1c1c1c" stroke-width="1.25" />
<path d="M572.5,619.2 L586.7,619.2 C594.5,619.2 594.5,635 586.7,635 L572.5,635.6" fill="none" stroke="#1c1c1c" stroke-width="1.25" />
<path d="M583.5,620 C590,621 590,633.5 583.5,634.6" fill="none" stroke="#1c1c1c" stroke-width="1" />
<path d="M574,619.5 L574,635" fill="none" stroke="#888" stroke-width="2.2" />
<path d="M599.2,615.8 L618.3,615.8 L618.3,635 L603.3,636.3" fill="none" stroke="#1c1c1c" stroke-width="1.25" />
<path d="M611,616.5 C609.92,616.83 606.17,616.92 604.5,618.5 C602.83,620.08 601.2,623.5 601,626 C600.8,628.5 602.13,631.83 603.3,633.5 C604.47,635.17 607.22,635.58 608,636" fill="none" stroke="#1c1c1c" stroke-width="1.25" />
<path d="M593.3,597 L618.3,618.3" fill="none" stroke="#1c1c1c" stroke-width="1.25" />
<path d="M599.2,611.5 L610.5,611.5 L617,616" fill="none" stroke="#1c1c1c" stroke-width="1" />
<path d="M551.7,635.8 C551.33,636.17 550.07,637.02 549.5,638 C548.93,638.98 548.5,641.08 548.3,641.7" fill="none" stroke="#1c1c1c" stroke-width="1.25" />
<path d="M552.5,636.5 C553.75,638.2 557.37,643.62 560,646.7 C562.63,649.78 565.63,652.53 568.3,655 C570.97,657.47 573.5,659.55 576,661.5 C578.5,663.45 581.13,665.28 583.3,666.7 C585.47,668.12 588.05,669.45 589,670" fill="none" stroke="#1c1c1c" stroke-width="1.25" />
<path d="M565.8,650.8 C568.17,650.8 574.43,651.07 580,650.8 C585.57,650.53 596,649.47 599.2,649.2" fill="none" stroke="#1c1c1c" stroke-width="1" />
<path d="M599.2,655 C599.08,655.67 598.92,657.88 598.5,659 C598.08,660.12 597.53,660.62 596.7,661.7 C595.87,662.78 594.62,664.4 593.5,665.5 C592.38,666.6 590.58,667.83 590,668.3" fill="none" stroke="#1c1c1c" stroke-width="1.25" />
<path d="M575,468.75 L575,655.5" fill="none" stroke="#1c1c1c" stroke-width="1.7" stroke-dasharray="14 3 3 3" />
<ellipse cx="74.7" cy="889.5" rx="64.9" ry="24.4" fill="#fff" stroke="#1c1c1c" stroke-width="1.25"/>
<path d="M137.28,884.97 C137.36,885.23 137.64,886.02 137.74,886.55 C137.84,887.08 137.9,887.61 137.9,888.14 C137.9,888.66 137.86,889.19 137.76,889.72 C137.67,890.25 137.53,890.78 137.33,891.3 C137.14,891.82 136.9,892.35 136.61,892.87 C136.32,893.38 135.98,893.9 135.6,894.41 C135.21,894.92 134.78,895.42 134.3,895.92 C133.82,896.42 133.29,896.91 132.72,897.4 C132.15,897.88 131.53,898.36 130.87,898.83 C130.21,899.3 129.51,899.77 128.76,900.22 C128.01,900.67 127.22,901.11 126.39,901.55 C125.57,901.98 124.69,902.4 123.79,902.81 C122.88,903.22 121.93,903.62 120.95,904.01 C119.97,904.4 118.95,904.77 117.9,905.13 C116.85,905.5 115.76,905.84 114.64,906.18 C113.53,906.51 112.38,906.83 111.2,907.14 C110.03,907.44 108.82,907.74 107.59,908.01 C106.36,908.29 105.1,908.55 103.82,908.79 C102.55,909.03 101.24,909.26 99.92,909.47 C98.6,909.68 97.26,909.88 95.9,910.06 C94.54,910.23 93.17,910.39 91.78,910.54 C90.39,910.68 88.99,910.81 87.58,910.91 C86.17,911.02 84.75,911.11 83.32,911.18 C81.89,911.26 80.46,911.31 79.02,911.35 C77.58,911.38 76.14,911.4 74.7,911.4 C73.26,911.4 71.82,911.38 70.38,911.35 C68.94,911.31 67.51,911.26 66.08,911.18 C64.65,911.11 63.23,911.02 61.82,910.91 C60.41,910.81 59.01,910.68 57.62,910.54 C56.23,910.39 54.86,910.23 53.5,910.06 C52.14,909.88 50.8,909.68 49.48,909.47 C48.16,909.26 46.85,909.03 45.58,908.79 C44.3,908.55 43.04,908.29 41.81,908.01 C40.58,907.74 39.37,907.44 38.2,907.14 C37.02,906.83 35.87,906.51 34.76,906.18 C33.64,905.84 32.55,905.5 31.5,905.13 C30.45,904.77 29.43,904.4 28.45,904.01 C27.47,903.62 26.52,903.22 25.61,902.81 C24.71,902.4 23.83,901.98 23.01,901.55 C22.18,901.11 21.39,900.67 20.64,900.22 C19.89,899.77 19.19,899.3 18.53,898.83 C17.87,898.36 17.25,897.88 16.68,897.4 C16.11,896.91 15.58,896.42 15.1,895.92 C14.62,895.42 14.19,894.92 13.8,894.41 C13.42,893.9 13.08,893.38 12.79,892.87 C12.5,892.35 12.26,891.82 12.07,891.3 C11.87,890.78 11.73,890.25 11.64,889.72 C11.54,889.19 11.5,888.66 11.5,888.14 C11.5,887.61 11.56,887.08 11.66,886.55 C11.76,886.02 12.04,885.23 12.12,884.97" fill="none" stroke="#1c1c1c" stroke-width="1" />
<path d="M9.6,889 L9.4,912.5" fill="none" stroke="#1c1c1c" stroke-width="1.25" />
<path d="M9.4,912.5 C10.96,914.17 14.07,919.58 18.75,922.5 C23.43,925.42 29.17,927.82 37.5,930 C45.83,932.18 60.42,934.77 68.75,935.6 C77.08,936.43 80.21,935.93 87.5,935 C94.79,934.07 105.21,932.29 112.5,930 C119.79,927.71 126.77,924.58 131.25,921.25 C135.73,917.92 138.04,911.88 139.4,910" fill="none" stroke="#1c1c1c" stroke-width="1.25" />
<path d="M139.4,910 L139.6,892" fill="none" stroke="#1c1c1c" stroke-width="1.25" />
<path d="M35,915 L68.75,920.6 L68.75,935 L35.6,930 L35,915" fill="none" stroke="#1c1c1c" stroke-width="1.1" />
<path d="M130,908.75 L130,923" fill="none" stroke="#1c1c1c" stroke-width="1.1" />
<ellipse cx="75" cy="878" rx="23.4" ry="8.75" fill="none" stroke="#1c1c1c" stroke-width="1.25"/>
<ellipse cx="74.6" cy="879.2" rx="16" ry="6.2" fill="none" stroke="#1c1c1c" stroke-width="1.25"/>
<path d="M60,877.5 L61.25,846.25 L87.5,845.6 L89.4,877.5 C85,885 65,885 60,877.5 Z" fill="#fff" stroke="#1c1c1c" stroke-width="1.25" />
<ellipse cx="74.4" cy="845" rx="13.3" ry="3.2" fill="#fff" stroke="#1c1c1c" stroke-width="1.25"/>
<ellipse cx="74.5" cy="842.5" rx="11.8" ry="2.8" fill="#fff" stroke="#1c1c1c" stroke-width="1"/>
<path d="M63.75,842 L63.75,838.75 C61,837.5 61,835 61.25,833.75 C63,828.5 66,825.6 70,825.6 L80,825.6 C84,825.6 86.5,828.5 87.5,834.4 C87.6,836 87,838 86.25,838.75 L86.25,842" fill="#fff" stroke="#1c1c1c" stroke-width="1.25" />
<path d="M61.5,834.5 C62.58,835 65.75,836.88 68,837.5 C70.25,838.12 72.67,838.2 75,838.2 C77.33,838.2 79.93,838.07 82,837.5 C84.07,836.93 86.5,835.25 87.4,834.8" fill="none" stroke="#1c1c1c" stroke-width="1" />
<path d="M63.75,838.9 C64.79,839.25 67.29,840.65 70,841 C72.71,841.35 77.29,841.35 80,841 C82.71,840.65 85.21,839.25 86.25,838.9" fill="none" stroke="#1c1c1c" stroke-width="1" />
<ellipse cx="75" cy="827.2" rx="3.6" ry="1.5" fill="none" stroke="#1c1c1c" stroke-width="1"/>
<path d="M69.4,935.6 L69.4,985" fill="none" stroke="#1c1c1c" stroke-width="1.25" />
<path d="M80,935.2 L80,985" fill="none" stroke="#1c1c1c" stroke-width="1.25" />
<path d="M69.4,985 C70,988.5 79.4,988.5 80,985" fill="none" stroke="#1c1c1c" stroke-width="1.25" />
<path d="M30,980 L69,972 M80.4,970 L92.5,969 C96,968.6 98,969.8 100,971.25 L118.4,986 C120,987.5 120,989 118.5,990 C117.5,991 117,991.5 116.25,991.9 L57.5,1003 C55.5,1003.4 54.5,1004.4 53.75,1005 L26,984.5 C24.5,983 26.5,980.8 30,980 L58.75,1002.5" fill="none" stroke="#1c1c1c" stroke-width="1.25" />
<path d="M119.4,989 L119.4,993 C118,995 115,996.2 112.5,996.9 L61.25,1007.5 C58,1008.2 56.5,1008.5 55,1008.75 L53.75,1005" fill="none" stroke="#1c1c1c" stroke-width="1.25" />
<path d="M69.4,1006 L69.4,1011.5 C71,1013.5 78,1013.5 79.4,1011.5 L79.4,1004" fill="none" stroke="#1c1c1c" stroke-width="1.25" />
<path d="M24.4,985 L23.75,990 L23.75,1013" fill="none" stroke="#1c1c1c" stroke-width="1.25" />
<path d="M24.4,985 C22.42,985.32 15.73,985.86 12.5,986.9 C9.27,987.94 6.77,989.48 5,991.25 C3.23,993.02 1.9,994.79 1.9,997.5 C1.9,1000.21 3.48,1004.58 5,1007.5 C6.52,1010.42 8.92,1012.5 11,1015 C13.08,1017.5 16.42,1021.25 17.5,1022.5" fill="none" stroke="#1c1c1c" stroke-width="1.25" />
<path d="M23.5,988.5 C21.75,988.83 15.67,989.5 13,990.5 C10.33,991.5 8.75,993 7.5,994.5 C6.25,996 5.33,997.33 5.5,999.5 C5.67,1001.67 6.25,1004.08 8.5,1007.5 C10.75,1010.92 17.25,1017.92 19,1020" fill="none" stroke="#1c1c1c" stroke-width="1" />
<path d="M17.5,1022.5 L22.5,1022.5 L22.5,1013" fill="none" stroke="#1c1c1c" stroke-width="1.25" />
<path d="M12,993.5 C9,994.5 8,997 10,999 L35,1021 M16.5,993.8 L38.5,1013.5 M12,993.5 C14,992.8 15.5,993 16.5,993.8" fill="none" stroke="#1c1c1c" stroke-width="1.25" />
<path d="M22.5,1013 L36,1025" fill="none" stroke="#1c1c1c" stroke-width="1.25" />
<path d="M35,1025 C34,1019 37,1013.5 42.5,1012.5 L58,1010 L58.6,1011 L58,1045.6 L49.4,1046.9 L36,1027 Z" fill="#fff" stroke="#1c1c1c" stroke-width="1.25" />
<path d="M37.5,1024 C37.2,1019.5 39.5,1016 43.5,1015 L55.5,1013 L55.3,1043 L50.5,1043.8" fill="none" stroke="#1c1c1c" stroke-width="1" />
<ellipse cx="45.6" cy="1023.75" rx="6.9" ry="6.9" fill="#fff" stroke="#1c1c1c" stroke-width="1.25"/>
<path d="M40.3,1019 C38.4,1021.5 38.4,1026 40.3,1028.5" fill="none" stroke="#1c1c1c" stroke-width="1" />
<path d="M29.4,1032.5 L31,1031.5 L40,1037.5 L40,1041 L38,1041.6 L30,1038 Z" fill="none" stroke="#1c1c1c" stroke-width="1" />
<path d="M812.5,304.4 C813.42,304.83 816.33,305.65 818,307 C819.67,308.35 821.17,310.58 822.5,312.5 C823.83,314.42 825.07,316.42 826,318.5 C826.93,320.58 827.53,322.92 828.1,325 C828.67,327.08 829.18,328.92 829.4,331 C829.62,333.08 829.53,335.58 829.4,337.5 C829.27,339.42 829.02,340.83 828.6,342.5 C828.18,344.17 827.63,345.83 826.9,347.5 C826.17,349.17 825.35,350.83 824.2,352.5 C823.05,354.17 820.7,356.67 820,357.5" fill="none" stroke="#1c1c1c" stroke-width="1.25" />
<path d="M812.5,297.9 C812.75,297.42 813.3,295.9 814,295 C814.7,294.1 815.57,293.33 816.7,292.5 C817.83,291.67 819.42,290.5 820.8,290 C822.18,289.5 823.6,289.57 825,289.5 C826.4,289.43 828.12,289.38 829.2,289.6 C830.28,289.82 830.95,290.32 831.5,290.8 C832.05,291.28 832.33,292.22 832.5,292.5" fill="none" stroke="#1c1c1c" stroke-width="1.25" />
<path d="M812.5,297.9 C814.58,297.55 821.53,296.35 825,295.8 C828.47,295.25 831.08,294.73 833.3,294.6 C835.52,294.47 836.07,294.23 838.3,295 C840.53,295.77 844.2,297.53 846.7,299.2 C849.2,300.87 851.78,303.55 853.3,305 C854.82,306.45 855.38,307.42 855.8,307.9" fill="none" stroke="#1c1c1c" stroke-width="1.25" />
<path d="M812.5,297.9 L812.9,303.3 L815.8,304.6" fill="none" stroke="#1c1c1c" stroke-width="1.25" />
<path d="M824.2,296.25 C825.72,296.74 830.67,297.74 833.3,299.2 C835.93,300.66 838.05,302.92 840,305 C841.95,307.08 843.75,310.17 845,311.7 C846.25,313.23 847.08,313.78 847.5,314.2" fill="none" stroke="#1c1c1c" stroke-width="1.25" />
<path d="M816.7,304.2 C818.08,304.2 822.5,303.52 825,304.2 C827.5,304.88 829.62,306.37 831.7,308.3 C833.78,310.23 835.98,313.3 837.5,315.8 C839.02,318.3 839.97,320.93 840.8,323.3 C841.63,325.67 842.15,327.5 842.5,330 C842.85,332.5 843.18,335.52 842.9,338.3 C842.62,341.08 841.83,344.05 840.8,346.7 C839.77,349.35 837.38,352.95 836.7,354.2" fill="none" stroke="#1c1c1c" stroke-width="1.25" />
<path d="M820.8,355.4 L837.5,354.2" fill="none" stroke="#1c1c1c" stroke-width="1.25" />
<path d="M858.3,354.2 C857.62,355.45 856.13,359.77 854.2,361.7 C852.27,363.63 849.62,364.83 846.7,365.8 C843.78,366.77 839.9,367.08 836.7,367.5 C833.5,367.92 829.03,368.17 827.5,368.3" fill="none" stroke="#1c1c1c" stroke-width="1.25" />
<path d="M849.2,350 C848.5,351.38 846.82,355.93 845,358.3 C843.18,360.67 841.22,362.6 838.3,364.2 C835.38,365.8 829.3,367.28 827.5,367.9" fill="none" stroke="#1c1c1c" stroke-width="1.25" />
<path d="M842.9,340 C842.55,341.8 842.12,347.47 840.8,350.8 C839.48,354.13 837.22,357.35 835,360 C832.78,362.65 828.75,365.58 827.5,366.7" fill="none" stroke="#1c1c1c" stroke-width="1.25" />
<path d="M820,357.5 C819.58,358.75 817.85,363.05 817.5,365 C817.15,366.95 816.78,368.3 817.9,369.2 C819.02,370.1 822.6,370.68 824.2,370.4 C825.8,370.12 826.95,367.98 827.5,367.5" fill="none" stroke="#1c1c1c" stroke-width="1.25" />
<path d="M820.8,363.3 L828.3,362.5" fill="none" stroke="#1c1c1c" stroke-width="1.25" />
<path d="M820,355 L807.5,361.25 L817.5,362" fill="none" stroke="#1c1c1c" stroke-width="1.25" />
<path d="M897,295.4 L892.5,295.4 C888,295.4 885.5,296 884.2,298.3 C883.3,300.5 883.3,302.4 880.5,303.2 L866.7,305.8 L856.7,307.9 C855.87,308.32 853.23,309.22 851.7,310.4 C850.17,311.58 848.75,313.12 847.5,315 C846.25,316.88 844.9,319.2 844.2,321.7 C843.5,324.2 843.23,327.23 843.3,330 C843.37,332.77 843.77,335.67 844.6,338.3 C845.43,340.93 846.7,343.64 848.3,345.8 C849.9,347.96 851.7,349.85 854.2,351.25 C856.7,352.65 859.55,353.86 863.3,354.2 C867.05,354.54 874.47,353.45 876.7,353.3 L897.5,351.7" fill="#fff" stroke="#1c1c1c" stroke-width="1.25" />
<path d="M886.7,302.9 L890.4,301.25 L892.1,310.4 L888.75,312.1 L886.7,302.9" fill="none" stroke="#1c1c1c" stroke-width="1.25" />
<path d="M876.25,256.25 C876.42,253.21 876.73,250.29 878.5,248 C880.27,245.71 884.57,243.21 886.9,242.5 C889.23,241.79 890.32,242.29 892.5,243.75 C894.68,245.21 896.46,248.22 900,251.25 C903.54,254.28 910,259.82 913.75,261.9 C917.5,263.98 919.38,264.07 922.5,263.75 C925.62,263.43 929.38,262.5 932.5,260 C935.62,257.5 938.75,252.71 941.25,248.75 C943.75,244.79 945.62,239.06 947.5,236.25 C949.38,233.44 950.62,232.73 952.5,231.9 C954.38,231.07 956.46,230.32 958.75,231.25 C961.04,232.18 964.27,234.79 966.25,237.5 C968.23,240.21 969.98,244.17 970.6,247.5 C971.23,250.83 970.73,254.38 970,257.5 C969.27,260.62 967.5,262.71 966.25,266.25 C965,269.79 963.44,273.96 962.5,278.75 C961.56,283.54 960.81,289.38 960.6,295 C960.39,300.62 960.52,306.67 961.25,312.5 C961.98,318.33 963.12,324.58 965,330 C966.88,335.42 970,340.62 972.5,345 C975,349.38 978.12,352.92 980,356.25 C981.88,359.58 982.98,361.88 983.75,365 C984.52,368.12 984.81,371.88 984.6,375 C984.39,378.12 983.68,381.46 982.5,383.75 C981.32,386.04 979.58,388.04 977.5,388.75 C975.42,389.46 972.29,389.04 970,388 C967.71,386.96 966.04,384.77 963.75,382.5 C961.46,380.23 958.96,376.69 956.25,374.4 C953.54,372.11 950.62,369.94 947.5,368.75 C944.38,367.56 940.62,366.73 937.5,367.25 C934.38,367.77 931.46,369.57 928.75,371.9 C926.04,374.23 923.54,377.82 921.25,381.25 C918.96,384.68 916.67,389.71 915,392.5 C913.33,395.29 912.92,396.71 911.25,398 C909.58,399.29 907.29,400.54 905,400.25 C902.71,399.96 899.58,398.38 897.5,396.25 C895.42,394.12 893.58,390.62 892.5,387.5 C891.42,384.38 890.79,381.04 891,377.5 C891.21,373.96 892.46,370 893.75,366.25 C895.04,362.5 897.39,358.96 898.75,355 C900.11,351.04 901.48,347.29 901.9,342.5 C902.32,337.71 901.67,331.25 901.25,326.25 C900.83,321.25 900.34,316.88 899.4,312.5 C898.46,308.12 897.17,304.17 895.6,300 C894.03,295.83 892.18,291.46 890,287.5 C887.82,283.54 884.58,279.79 882.5,276.25 C880.42,272.71 878.54,269.58 877.5,266.25 C876.46,262.92 876.08,259.29 876.25,256.25 Z" fill="#fff" stroke="#1c1c1c" stroke-width="1.25" />
<path d="M888,244.6 C887,245.08 883.53,246.1 882,247.5 C880.47,248.9 879.37,251.25 878.8,253 C878.23,254.75 878.4,255.83 878.6,258 C878.8,260.17 878.93,263 880,266 C881.07,269 882.93,272.42 885,276 C887.07,279.58 890.27,283.5 892.4,287.5 C894.53,291.5 896.28,295.83 897.8,300 C899.32,304.17 900.57,308.12 901.5,312.5 C902.43,316.88 902.98,321.25 903.4,326.25 C903.82,331.25 904.4,337.71 904,342.5 C903.6,347.29 902.33,351.04 901,355 C899.67,358.96 897.3,362.5 896,366.25 C894.7,370 893.43,374.04 893.2,377.5 C892.97,380.96 893.63,384.17 894.6,387 C895.57,389.83 897.18,392.67 899,394.5 C900.82,396.33 903.67,397.75 905.5,398 C907.33,398.25 909.25,396.33 910,396" fill="none" stroke="#1c1c1c" stroke-width="1.25" />
<path d="M941.5,251 C942.25,249.33 944.58,243.5 946,241 C947.42,238.5 948.75,237.27 950,236 C951.25,234.73 952.92,233.83 953.5,233.4" fill="none" stroke="#1c1c1c" stroke-width="1.25" />
<path d="M928,374.5 C929.33,373.67 933,370.25 936,369.5 C939,368.75 942.83,369 946,370 C949.17,371 952.25,373.25 955,375.5 C957.75,377.75 960.17,381.17 962.5,383.5 C964.83,385.83 967.92,388.5 969,389.5" fill="none" stroke="#1c1c1c" stroke-width="1.25" />
<path d="M900.5,251.5 C901.42,251.67 904.42,251.67 906,252.5 C907.58,253.33 908.87,255.08 910,256.5 C911.13,257.92 912.33,260.25 912.8,261" fill="none" stroke="#1c1c1c" stroke-width="1.25" />
<ellipse cx="886.5" cy="257.5" rx="2.4" ry="4.1" fill="none" stroke="#1c1c1c" stroke-width="1.25" transform="rotate(-8 886.5 257.5)"/>
<ellipse cx="897.75" cy="271.9" rx="2.4" ry="4.1" fill="none" stroke="#1c1c1c" stroke-width="1.25" transform="rotate(-8 897.75 271.9)"/>
<ellipse cx="961" cy="245" rx="2.4" ry="4.1" fill="none" stroke="#1c1c1c" stroke-width="1.25" transform="rotate(-8 961 245)"/>
<ellipse cx="953.75" cy="262.75" rx="2.4" ry="4.1" fill="none" stroke="#1c1c1c" stroke-width="1.25" transform="rotate(-8 953.75 262.75)"/>
<ellipse cx="902.25" cy="386.25" rx="2.4" ry="4.1" fill="none" stroke="#1c1c1c" stroke-width="1.25" transform="rotate(-8 902.25 386.25)"/>
<ellipse cx="909.6" cy="368.75" rx="2.4" ry="4.1" fill="none" stroke="#1c1c1c" stroke-width="1.25" transform="rotate(-8 909.6 368.75)"/>
<ellipse cx="965.6" cy="359.4" rx="2.4" ry="4.1" fill="none" stroke="#1c1c1c" stroke-width="1.25" transform="rotate(-8 965.6 359.4)"/>
<ellipse cx="976.9" cy="374.4" rx="2.4" ry="4.1" fill="none" stroke="#1c1c1c" stroke-width="1.25" transform="rotate(-8 976.9 374.4)"/>
<ellipse cx="931.9" cy="315.6" rx="11" ry="18.7" fill="none" stroke="#1c1c1c" stroke-width="1.25"/>
<ellipse cx="929.2" cy="316.2" rx="7.3" ry="15" fill="none" stroke="#1c1c1c" stroke-width="1.25"/>
<ellipse cx="930.6" cy="315.6" rx="5" ry="9.4" fill="none" stroke="#1c1c1c" stroke-width="1.25"/>
<ellipse cx="931.2" cy="315.6" rx="2.5" ry="4.4" fill="none" stroke="#1c1c1c" stroke-width="1.25"/>
<ellipse cx="862.7" cy="329.75" rx="12.7" ry="14.8" fill="none" stroke="#1c1c1c" stroke-width="1.25"/>
<path d="M866.2,332.66 L861.15,336.9 L854.94,334.64 L853.8,328.14 L858.85,323.9 L865.06,326.16 Z" fill="none" stroke="#1c1c1c" stroke-width="1.25" />
<ellipse cx="860" cy="330.4" rx="3.8" ry="3.8" fill="none" stroke="#1c1c1c" stroke-width="1.25"/>
<ellipse cx="860" cy="330.4" rx="2" ry="2" fill="none" stroke="#1c1c1c" stroke-width="1.25"/>
<path d="M366.5,372.3 L575,372.3" fill="none" stroke="#1c1c1c" stroke-width="1.15" />
<path d="M366.5,372.3 L379,370.3 L379,374.3 Z" fill="#000" stroke="#000" stroke-width="0.4"/>
<path d="M575,372.3 L562.5,374.3 L562.5,370.3 Z" fill="#000" stroke="#000" stroke-width="0.4"/>
<g transform="translate(454.6 369.8) rotate(0) translate(0 0) scale(13.6797 -13.5000)" fill="none" stroke="#141414" stroke-width="1.12" stroke-linecap="round" stroke-linejoin="round"><path transform="translate(0.0000 0)" d="M0.02,0.8 L0.24,1 L0.24,0 M0,0 L0.5,0" vector-effect="non-scaling-stroke"/><path transform="translate(0.7300 0)" d="M0,1 L0.65,1 L0.2,0" vector-effect="non-scaling-stroke"/><path transform="translate(1.6600 0)" d="M0,1 L0.65,1 L0.2,0" vector-effect="non-scaling-stroke"/></g>
<path d="M575,257 L575,468.75" fill="none" stroke="#1c1c1c" stroke-width="1.7" />
<path d="M575,260.3 L824,260.3" fill="none" stroke="#1c1c1c" stroke-width="1.15" />
<path d="M575,260.3 L587.5,258.3 L587.5,262.3 Z" fill="#000" stroke="#000" stroke-width="0.4"/>
<path d="M824,260.3 L811.5,262.3 L811.5,258.3 Z" fill="#000" stroke="#000" stroke-width="0.4"/>
<g transform="translate(611.7 257.8) rotate(0) translate(0 0) scale(13.2156 -13.2000)" fill="none" stroke="#141414" stroke-width="1.12" stroke-linecap="round" stroke-linejoin="round"><path transform="translate(0.0000 0)" d="M0,0 L0,0.72 M0,0.55 C0.03,0.66 0.1,0.72 0.2,0.72 C0.32,0.72 0.375,0.65 0.375,0.52 L0.375,0 M0.375,0.52 C0.4,0.65 0.47,0.72 0.57,0.72 C0.69,0.72 0.75,0.65 0.75,0.52 L0.75,0" vector-effect="non-scaling-stroke"/><path transform="translate(1.0300 0)" d="M0.01,0 L0.01,0.72 M0.01,0.9 L0.01,1" vector-effect="non-scaling-stroke"/><path transform="translate(1.3300 0)" d="M0,0 L0,0.72 M0,0.5 C0.05,0.65 0.18,0.72 0.35,0.72 C0.58,0.72 0.7,0.62 0.7,0.45 L0.7,0" vector-effect="non-scaling-stroke"/><path transform="translate(2.3100 0)" d="M0,0.78 C0.02,0.92 0.15,1 0.35,1 C0.55,1 0.7,0.9 0.7,0.74 C0.7,0.6 0.6,0.52 0.4,0.45 C0.15,0.36 0,0.25 0,0 L0.7,0" vector-effect="non-scaling-stroke"/><path transform="translate(3.2900 0)" d="M0.02,0.8 L0.24,1 L0.24,0 M0,0 L0.5,0" vector-effect="non-scaling-stroke"/><path transform="translate(4.0200 0)" d="M0.3,1 C0.1,1 0,0.85 0,0.65 L0,0.35 C0,0.15 0.1,0 0.3,0 C0.5,0 0.6,0.15 0.6,0.35 L0.6,0.65 C0.6,0.85 0.5,1 0.3,1 Z" vector-effect="non-scaling-stroke"/><path transform="translate(4.9000 0)" d="M0,0.5 C0.1,0.68 0.3,0.72 0.5,0.55 C0.65,0.42 0.85,0.35 1,0.52" vector-effect="non-scaling-stroke"/><path transform="translate(6.1800 0)" d="M0,0 L0,0.72 M0,0.55 C0.03,0.66 0.1,0.72 0.2,0.72 C0.32,0.72 0.375,0.65 0.375,0.52 L0.375,0 M0.375,0.52 C0.4,0.65 0.47,0.72 0.57,0.72 C0.69,0.72 0.75,0.65 0.75,0.52 L0.75,0" vector-effect="non-scaling-stroke"/><path transform="translate(7.2100 0)" d="M0.6,0.36 C0.6,0.56 0.47,0.72 0.3,0.72 C0.13,0.72 0,0.56 0,0.36 C0,0.16 0.13,0 0.3,0 C0.47,0 0.6,0.16 0.6,0.36 M0.6,0.72 L0.6,0.2 C0.6,0.08 0.66,0 0.78,0" vector-effect="non-scaling-stroke"/><path transform="translate(8.2700 0)" d="M0,0 L0.65,0.72 M0,0.72 L0.65,0" vector-effect="non-scaling-stroke"/><path transform="translate(9.2000 0)" d="M0,0.78 C0.02,0.92 0.15,1 0.35,1 C0.55,1 0.7,0.9 0.7,0.74 C0.7,0.6 0.6,0.52 0.4,0.45 C0.15,0.36 0,0.25 0,0 L0.7,0" vector-effect="non-scaling-stroke"/><path transform="translate(10.1800 0)" d="M0,1 L0.65,1 L0.2,0" vector-effect="non-scaling-stroke"/><path transform="translate(11.1100 0)" d="M0.35,0.55 C0.15,0.55 0.05,0.65 0.05,0.78 C0.05,0.91 0.17,1 0.35,1 C0.53,1 0.65,0.91 0.65,0.78 C0.65,0.65 0.55,0.55 0.35,0.55 C0.12,0.55 0,0.43 0,0.28 C0,0.11 0.13,0 0.35,0 C0.57,0 0.7,0.11 0.7,0.28 C0.7,0.43 0.58,0.55 0.35,0.55 Z" vector-effect="non-scaling-stroke"/><path transform="translate(12.0900 0)" d="M0,0 L0,0.72 M0,0.55 C0.03,0.66 0.1,0.72 0.2,0.72 C0.32,0.72 0.375,0.65 0.375,0.52 L0.375,0 M0.375,0.52 C0.4,0.65 0.47,0.72 0.57,0.72 C0.69,0.72 0.75,0.65 0.75,0.52 L0.75,0" vector-effect="non-scaling-stroke"/><path transform="translate(13.1200 0)" d="M0,0 L0,0.72 M0,0.55 C0.03,0.66 0.1,0.72 0.2,0.72 C0.32,0.72 0.375,0.65 0.375,0.52 L0.375,0 M0.375,0.52 C0.4,0.65 0.47,0.72 0.57,0.72 C0.69,0.72 0.75,0.65 0.75,0.52 L0.75,0" vector-effect="non-scaling-stroke"/></g>
<path d="M824.25,169 L824.25,370" fill="none" stroke="#1c1c1c" stroke-width="1.4" stroke-dasharray="6 2.5" />
<path d="M824.25,229.5 L923.75,229.5" fill="none" stroke="#1c1c1c" stroke-width="1.15" />
<path d="M824.25,229.5 L836.75,227.5 L836.75,231.5 Z" fill="#000" stroke="#000" stroke-width="0.4"/>
<path d="M923.75,229.5 L911.25,231.5 L911.25,227.5 Z" fill="#000" stroke="#000" stroke-width="0.4"/>
<path d="M923.75,226 L923.75,261" fill="none" stroke="#1c1c1c" stroke-width="1.15" />
<g transform="translate(863.75 227.3) rotate(0) translate(0 0) scale(13.8037 -13.3000)" fill="none" stroke="#141414" stroke-width="1.12" stroke-linecap="round" stroke-linejoin="round"><path transform="translate(0.0000 0)" d="M0.65,0.68 C0.65,0.5 0.52,0.38 0.33,0.38 C0.13,0.38 0,0.5 0,0.68 C0,0.88 0.13,1 0.33,1 C0.53,1 0.65,0.88 0.65,0.68 L0.65,0.5 C0.65,0.3 0.5,0.1 0.2,0" vector-effect="non-scaling-stroke"/><path transform="translate(0.9300 0)" d="M0.35,0.55 C0.15,0.55 0.05,0.65 0.05,0.78 C0.05,0.91 0.17,1 0.35,1 C0.53,1 0.65,0.91 0.65,0.78 C0.65,0.65 0.55,0.55 0.35,0.55 C0.12,0.55 0,0.43 0,0.28 C0,0.11 0.13,0 0.35,0 C0.57,0 0.7,0.11 0.7,0.28 C0.7,0.43 0.58,0.55 0.35,0.55 Z" vector-effect="non-scaling-stroke"/></g>
<path d="M932.5,315.75 L1020,315.75" fill="none" stroke="#1c1c1c" stroke-width="1.15" />
<path d="M1016.5,316 L1016.5,918" fill="none" stroke="#1c1c1c" stroke-width="1.15" />
<path d="M1016.5,316 L1018.5,328.5 L1014.5,328.5 Z" fill="#000" stroke="#000" stroke-width="0.4"/>
<path d="M1016.5,918 L1014.5,905.5 L1018.5,905.5 Z" fill="#000" stroke="#000" stroke-width="0.4"/>
<g transform="translate(1014.1 742.75) rotate(-90) translate(0 0) scale(13.1997 -13.4000)" fill="none" stroke="#141414" stroke-width="1.12" stroke-linecap="round" stroke-linejoin="round"><path transform="translate(0.0000 0)" d="M0,0 L0,0.72 M0,0.55 C0.03,0.66 0.1,0.72 0.2,0.72 C0.32,0.72 0.375,0.65 0.375,0.52 L0.375,0 M0.375,0.52 C0.4,0.65 0.47,0.72 0.57,0.72 C0.69,0.72 0.75,0.65 0.75,0.52 L0.75,0" vector-effect="non-scaling-stroke"/><path transform="translate(1.0300 0)" d="M0.01,0 L0.01,0.72 M0.01,0.9 L0.01,1" vector-effect="non-scaling-stroke"/><path transform="translate(1.3300 0)" d="M0,0 L0,0.72 M0,0.5 C0.05,0.65 0.18,0.72 0.35,0.72 C0.58,0.72 0.7,0.62 0.7,0.45 L0.7,0" vector-effect="non-scaling-stroke"/><path transform="translate(2.3100 0)" d="M0.02,0.8 L0.24,1 L0.24,0 M0,0 L0.5,0" vector-effect="non-scaling-stroke"/><path transform="translate(3.0400 0)" d="M0,0.78 C0.02,0.92 0.15,1 0.35,1 C0.55,1 0.7,0.9 0.7,0.74 C0.7,0.6 0.6,0.52 0.4,0.45 C0.15,0.36 0,0.25 0,0 L0.7,0" vector-effect="non-scaling-stroke"/><path transform="translate(4.0200 0)" d="M0.6,0.85 C0.55,0.95 0.45,1 0.33,1 C0.1,1 0,0.8 0,0.5 L0,0.32 C0,0.12 0.13,0 0.33,0 C0.53,0 0.65,0.12 0.65,0.32 C0.65,0.5 0.53,0.62 0.33,0.62 C0.15,0.62 0,0.5 0,0.32" vector-effect="non-scaling-stroke"/><path transform="translate(4.9500 0)" d="M0,0.5 C0.1,0.68 0.3,0.72 0.5,0.55 C0.65,0.42 0.85,0.35 1,0.52" vector-effect="non-scaling-stroke"/><path transform="translate(6.2300 0)" d="M0,0 L0,0.72 M0,0.55 C0.03,0.66 0.1,0.72 0.2,0.72 C0.32,0.72 0.375,0.65 0.375,0.52 L0.375,0 M0.375,0.52 C0.4,0.65 0.47,0.72 0.57,0.72 C0.69,0.72 0.75,0.65 0.75,0.52 L0.75,0" vector-effect="non-scaling-stroke"/><path transform="translate(7.2600 0)" d="M0.6,0.36 C0.6,0.56 0.47,0.72 0.3,0.72 C0.13,0.72 0,0.56 0,0.36 C0,0.16 0.13,0 0.3,0 C0.47,0 0.6,0.16 0.6,0.36 M0.6,0.72 L0.6,0.2 C0.6,0.08 0.66,0 0.78,0" vector-effect="non-scaling-stroke"/><path transform="translate(8.3200 0)" d="M0,0 L0.65,0.72 M0,0.72 L0.65,0" vector-effect="non-scaling-stroke"/><path transform="translate(9.2500 0)" d="M0.5,0 L0.5,1 L0,0.3 L0.7,0.3" vector-effect="non-scaling-stroke"/><path transform="translate(10.2300 0)" d="M0.35,0.55 C0.15,0.55 0.05,0.65 0.05,0.78 C0.05,0.91 0.17,1 0.35,1 C0.53,1 0.65,0.91 0.65,0.78 C0.65,0.65 0.55,0.55 0.35,0.55 C0.12,0.55 0,0.43 0,0.28 C0,0.11 0.13,0 0.35,0 C0.57,0 0.7,0.11 0.7,0.28 C0.7,0.43 0.58,0.55 0.35,0.55 Z" vector-effect="non-scaling-stroke"/><path transform="translate(11.2100 0)" d="M0,0.78 C0.02,0.92 0.15,1 0.35,1 C0.55,1 0.7,0.9 0.7,0.74 C0.7,0.6 0.6,0.52 0.4,0.45 C0.15,0.36 0,0.25 0,0 L0.7,0" vector-effect="non-scaling-stroke"/><path transform="translate(12.1900 0)" d="M0,0 L0,0.72 M0,0.55 C0.03,0.66 0.1,0.72 0.2,0.72 C0.32,0.72 0.375,0.65 0.375,0.52 L0.375,0 M0.375,0.52 C0.4,0.65 0.47,0.72 0.57,0.72 C0.69,0.72 0.75,0.65 0.75,0.52 L0.75,0" vector-effect="non-scaling-stroke"/><path transform="translate(13.2200 0)" d="M0,0 L0,0.72 M0,0.55 C0.03,0.66 0.1,0.72 0.2,0.72 C0.32,0.72 0.375,0.65 0.375,0.52 L0.375,0 M0.375,0.52 C0.4,0.65 0.47,0.72 0.57,0.72 C0.69,0.72 0.75,0.65 0.75,0.52 L0.75,0" vector-effect="non-scaling-stroke"/></g>
<path d="M583.5,740 L583.5,918" fill="none" stroke="#1c1c1c" stroke-width="1.15" />
<path d="M583.5,918 L581.5,905.5 L585.5,905.5 Z" fill="#000" stroke="#000" stroke-width="0.4"/>
<path d="M583.5,947.6 L583.5,973" fill="none" stroke="#1c1c1c" stroke-width="1.15" />
<path d="M583.5,947.6 L585.5,960.1 L581.5,960.1 Z" fill="#000" stroke="#000" stroke-width="0.4"/>
<g transform="translate(581.2 890) rotate(-90) translate(0 0) scale(13.2525 -13.0000)" fill="none" stroke="#141414" stroke-width="1.12" stroke-linecap="round" stroke-linejoin="round"><path transform="translate(0.0000 0)" d="M0,0 L0,0.72 M0,0.55 C0.03,0.66 0.1,0.72 0.2,0.72 C0.32,0.72 0.375,0.65 0.375,0.52 L0.375,0 M0.375,0.52 C0.4,0.65 0.47,0.72 0.57,0.72 C0.69,0.72 0.75,0.65 0.75,0.52 L0.75,0" vector-effect="non-scaling-stroke"/><path transform="translate(1.0300 0)" d="M0.01,0 L0.01,0.72 M0.01,0.9 L0.01,1" vector-effect="non-scaling-stroke"/><path transform="translate(1.3300 0)" d="M0,0 L0,0.72 M0,0.5 C0.05,0.65 0.18,0.72 0.35,0.72 C0.58,0.72 0.7,0.62 0.7,0.45 L0.7,0" vector-effect="non-scaling-stroke"/><path transform="translate(2.3100 0)" d="M0.6,1 L0.05,1 L0,0.55 C0.1,0.62 0.2,0.65 0.33,0.65 C0.53,0.65 0.65,0.5 0.65,0.33 C0.65,0.13 0.52,0 0.32,0 C0.17,0 0.05,0.07 0,0.2" vector-effect="non-scaling-stroke"/><path transform="translate(3.2400 0)" d="M0,0.5 C0.1,0.68 0.3,0.72 0.5,0.55 C0.65,0.42 0.85,0.35 1,0.52" vector-effect="non-scaling-stroke"/><path transform="translate(4.5200 0)" d="M0,0 L0,0.72 M0,0.55 C0.03,0.66 0.1,0.72 0.2,0.72 C0.32,0.72 0.375,0.65 0.375,0.52 L0.375,0 M0.375,0.52 C0.4,0.65 0.47,0.72 0.57,0.72 C0.69,0.72 0.75,0.65 0.75,0.52 L0.75,0" vector-effect="non-scaling-stroke"/><path transform="translate(5.5500 0)" d="M0.6,0.36 C0.6,0.56 0.47,0.72 0.3,0.72 C0.13,0.72 0,0.56 0,0.36 C0,0.16 0.13,0 0.3,0 C0.47,0 0.6,0.16 0.6,0.36 M0.6,0.72 L0.6,0.2 C0.6,0.08 0.66,0 0.78,0" vector-effect="non-scaling-stroke"/><path transform="translate(6.6100 0)" d="M0,0 L0.65,0.72 M0,0.72 L0.65,0" vector-effect="non-scaling-stroke"/><path transform="translate(7.5400 0)" d="M0,1 L0.65,1 L0.2,0" vector-effect="non-scaling-stroke"/><path transform="translate(8.4700 0)" d="M0.3,1 C0.1,1 0,0.85 0,0.65 L0,0.35 C0,0.15 0.1,0 0.3,0 C0.5,0 0.6,0.15 0.6,0.35 L0.6,0.65 C0.6,0.85 0.5,1 0.3,1 Z" vector-effect="non-scaling-stroke"/><path transform="translate(9.3500 0)" d="M0,0 L0,0.72 M0,0.55 C0.03,0.66 0.1,0.72 0.2,0.72 C0.32,0.72 0.375,0.65 0.375,0.52 L0.375,0 M0.375,0.52 C0.4,0.65 0.47,0.72 0.57,0.72 C0.69,0.72 0.75,0.65 0.75,0.52 L0.75,0" vector-effect="non-scaling-stroke"/><path transform="translate(10.3800 0)" d="M0,0 L0,0.72 M0,0.55 C0.03,0.66 0.1,0.72 0.2,0.72 C0.32,0.72 0.375,0.65 0.375,0.52 L0.375,0 M0.375,0.52 C0.4,0.65 0.47,0.72 0.57,0.72 C0.69,0.72 0.75,0.65 0.75,0.52 L0.75,0" vector-effect="non-scaling-stroke"/></g>
<path d="M301.25,803.5 L366.5,803.5" fill="none" stroke="#1c1c1c" stroke-width="1.15" />
<path d="M301.25,803.5 L313.75,801.5 L313.75,805.5 Z" fill="#000" stroke="#000" stroke-width="0.4"/>
<path d="M366.5,803.5 L354,805.5 L354,801.5 Z" fill="#000" stroke="#000" stroke-width="0.4"/>
<path d="M301.25,800 L301.25,901" fill="none" stroke="#1c1c1c" stroke-width="1.15" />
<g transform="translate(323 800.8) rotate(0) translate(0 0) scale(13.7255 -13.5000)" fill="none" stroke="#141414" stroke-width="1.12" stroke-linecap="round" stroke-linejoin="round"><path transform="translate(0.0000 0)" d="M0.6,1 L0.05,1 L0,0.55 C0.1,0.62 0.2,0.65 0.33,0.65 C0.53,0.65 0.65,0.5 0.65,0.33 C0.65,0.13 0.52,0 0.32,0 C0.17,0 0.05,0.07 0,0.2" vector-effect="non-scaling-stroke"/><path transform="translate(0.9300 0)" d="M0.3,1 C0.1,1 0,0.85 0,0.65 L0,0.35 C0,0.15 0.1,0 0.3,0 C0.5,0 0.6,0.15 0.6,0.35 L0.6,0.65 C0.6,0.85 0.5,1 0.3,1 Z" vector-effect="non-scaling-stroke"/></g>
<path d="M190.7,791 L190.7,906.4" fill="none" stroke="#1c1c1c" stroke-width="1.15" />
<path d="M190.7,906.4 L188.7,893.9 L192.7,893.9 Z" fill="#000" stroke="#000" stroke-width="0.4"/>
<path d="M190.7,963.2 L190.7,988.8" fill="none" stroke="#1c1c1c" stroke-width="1.15" />
<path d="M190.7,963.2 L192.7,975.7 L188.7,975.7 Z" fill="#000" stroke="#000" stroke-width="0.4"/>
<path d="M139.9,916.4 L193.4,905.5" fill="none" stroke="#1c1c1c" stroke-width="1.15" />
<path d="M111,977.8 L193.4,962.2" fill="none" stroke="#1c1c1c" stroke-width="1.15" />
<g transform="translate(188.5 878.9) rotate(-90) translate(0 0) scale(12.9129 -13.6000)" fill="none" stroke="#141414" stroke-width="1.12" stroke-linecap="round" stroke-linejoin="round"><path transform="translate(0.0000 0)" d="M0,0 L0,0.72 M0,0.55 C0.03,0.66 0.1,0.72 0.2,0.72 C0.32,0.72 0.375,0.65 0.375,0.52 L0.375,0 M0.375,0.52 C0.4,0.65 0.47,0.72 0.57,0.72 C0.69,0.72 0.75,0.65 0.75,0.52 L0.75,0" vector-effect="non-scaling-stroke"/><path transform="translate(1.0300 0)" d="M0.6,0.36 C0.6,0.56 0.47,0.72 0.3,0.72 C0.13,0.72 0,0.56 0,0.36 C0,0.16 0.13,0 0.3,0 C0.47,0 0.6,0.16 0.6,0.36 M0.6,0.72 L0.6,0.2 C0.6,0.08 0.66,0 0.78,0" vector-effect="non-scaling-stroke"/><path transform="translate(2.0900 0)" d="M0,0 L0.65,0.72 M0,0.72 L0.65,0" vector-effect="non-scaling-stroke"/><path transform="translate(3.0200 0)" d="M0.35,0.55 C0.15,0.55 0.05,0.65 0.05,0.78 C0.05,0.91 0.17,1 0.35,1 C0.53,1 0.65,0.91 0.65,0.78 C0.65,0.65 0.55,0.55 0.35,0.55 C0.12,0.55 0,0.43 0,0.28 C0,0.11 0.13,0 0.35,0 C0.57,0 0.7,0.11 0.7,0.28 C0.7,0.43 0.58,0.55 0.35,0.55 Z" vector-effect="non-scaling-stroke"/><path transform="translate(4.0000 0)" d="M0.3,1 C0.1,1 0,0.85 0,0.65 L0,0.35 C0,0.15 0.1,0 0.3,0 C0.5,0 0.6,0.15 0.6,0.35 L0.6,0.65 C0.6,0.85 0.5,1 0.3,1 Z" vector-effect="non-scaling-stroke"/><path transform="translate(4.8800 0)" d="M0,0 L0,0.72 M0,0.55 C0.03,0.66 0.1,0.72 0.2,0.72 C0.32,0.72 0.375,0.65 0.375,0.52 L0.375,0 M0.375,0.52 C0.4,0.65 0.47,0.72 0.57,0.72 C0.69,0.72 0.75,0.65 0.75,0.52 L0.75,0" vector-effect="non-scaling-stroke"/><path transform="translate(5.9100 0)" d="M0,0 L0,0.72 M0,0.55 C0.03,0.66 0.1,0.72 0.2,0.72 C0.32,0.72 0.375,0.65 0.375,0.52 L0.375,0 M0.375,0.52 C0.4,0.65 0.47,0.72 0.57,0.72 C0.69,0.72 0.75,0.65 0.75,0.52 L0.75,0" vector-effect="non-scaling-stroke"/></g>
<path d="M784.24,157.19 C783.84,157.47 782.6,158.3 781.85,158.88 C781.1,159.46 780.38,160.05 779.71,160.66 C779.05,161.26 778.42,161.88 777.84,162.51 C777.26,163.14 776.73,163.78 776.24,164.43 C775.75,165.08 775.31,165.74 774.92,166.41 C774.53,167.07 774.19,167.75 773.9,168.43 C773.6,169.11 773.36,169.79 773.16,170.48 C772.97,171.17 772.82,171.86 772.73,172.56 C772.64,173.25 772.59,173.95 772.6,174.65 C772.61,175.34 772.67,176.04 772.77,176.73 C772.88,177.43 773.04,178.12 773.25,178.81 C773.46,179.49 773.71,180.18 774.02,180.86 C774.33,181.54 774.69,182.21 775.09,182.87 C775.49,183.54 775.95,184.2 776.45,184.84 C776.95,185.49 777.49,186.13 778.09,186.75 C778.68,187.38 779.32,187.99 780,188.6 C780.68,189.2 781.4,189.79 782.17,190.36 C782.93,190.93 783.74,191.49 784.59,192.04 C785.44,192.58 786.33,193.11 787.25,193.61 C788.17,194.12 789.13,194.62 790.13,195.09 C791.12,195.56 792.15,196.01 793.21,196.44 C794.27,196.88 795.37,197.29 796.48,197.68 C797.6,198.07 798.75,198.44 799.93,198.79 C801.1,199.13 802.3,199.46 803.52,199.76 C804.74,200.06 805.98,200.34 807.24,200.59 C808.5,200.84 809.79,201.07 811.08,201.27 C812.37,201.48 813.68,201.66 815,201.81 C816.32,201.96 817.65,202.09 818.99,202.19 C820.33,202.3 821.67,202.37 823.02,202.43 C824.37,202.48 825.73,202.5 827.08,202.5 C828.43,202.5 829.79,202.47 831.13,202.42 C832.48,202.37 833.83,202.29 835.17,202.18 C836.5,202.08 837.84,201.95 839.15,201.79 C840.47,201.64 841.78,201.46 843.07,201.25 C844.36,201.04 845.64,200.81 846.9,200.56 C848.16,200.3 849.4,200.02 850.62,199.72 C851.84,199.42 853.04,199.09 854.21,198.75 C855.38,198.4 856.53,198.03 857.65,197.63 C858.76,197.24 859.85,196.83 860.91,196.39 C861.97,195.96 863,195.5 863.99,195.03 C864.98,194.56 865.94,194.07 866.86,193.56 C867.78,193.05 868.66,192.52 869.51,191.97 C870.35,191.43 871.16,190.87 871.92,190.29 C872.68,189.72 873.41,189.13 874.08,188.53 C874.76,187.92 875.4,187.31 875.98,186.68 C876.57,186.05 877.12,185.41 877.61,184.77 C878.11,184.12 878.56,183.46 878.96,182.8 C879.36,182.13 879.71,181.46 880.01,180.78 C880.32,180.1 880.57,179.41 880.78,178.73 C880.98,178.04 881.14,177.35 881.24,176.65 C881.34,175.96 881.4,175.26 881.4,174.56 C881.4,173.87 881.36,173.17 881.26,172.48 C881.16,171.78 881.01,171.09 880.81,170.4 C880.62,169.71 880.37,169.03 880.07,168.35 C879.77,167.67 879.43,166.99 879.03,166.33 C878.64,165.66 878.19,165 877.7,164.35 C877.21,163.71 876.67,163.06 876.09,162.44 C875.51,161.81 874.88,161.19 874.21,160.59 C873.54,159.98 872.82,159.39 872.06,158.81 C871.3,158.24 870.06,157.41 869.66,157.13" fill="none" stroke="#1c1c1c" stroke-width="1.1" />
<path d="M801,150 L785.22,159.49 L783.25,154.89 Z" fill="#000" stroke="#000" stroke-width="0.4"/>
<path d="M854.2,149.6 L870.76,154.88 L868.57,159.38 Z" fill="#000" stroke="#000" stroke-width="0.4"/>
<g transform="translate(810.8 155.4) rotate(0) translate(0 0) scale(13.3333 -13.3000)" fill="none" stroke="#141414" stroke-width="1.12" stroke-linecap="round" stroke-linejoin="round"><path transform="translate(0.0000 0)" d="M0,0.64 L0.7,0.64 M0.35,0.97 L0.35,0.33 M0,0.13 L0.7,0.13" vector-effect="non-scaling-stroke"/><path transform="translate(0.9800 0)" d="M0.65,0.68 C0.65,0.5 0.52,0.38 0.33,0.38 C0.13,0.38 0,0.5 0,0.68 C0,0.88 0.13,1 0.33,1 C0.53,1 0.65,0.88 0.65,0.68 L0.65,0.5 C0.65,0.3 0.5,0.1 0.2,0" vector-effect="non-scaling-stroke"/><path transform="translate(1.9100 0)" d="M0.3,1 C0.1,1 0,0.85 0,0.65 L0,0.35 C0,0.15 0.1,0 0.3,0 C0.5,0 0.6,0.15 0.6,0.35 L0.6,0.65 C0.6,0.85 0.5,1 0.3,1 Z" vector-effect="non-scaling-stroke"/><path transform="translate(2.7900 0)" d="M0.18,0.98 L0.36,0.8 L0.18,0.62 L0,0.8 Z" vector-effect="non-scaling-stroke"/></g>
<path d="M537.31,423.67 C536.9,423.95 535.62,424.77 534.84,425.35 C534.06,425.93 533.32,426.52 532.62,427.12 C531.93,427.73 531.28,428.35 530.67,428.98 C530.07,429.61 529.51,430.26 528.99,430.91 C528.48,431.56 528.02,432.23 527.6,432.9 C527.18,433.57 526.82,434.25 526.5,434.94 C526.18,435.62 525.91,436.31 525.7,437.01 C525.48,437.71 525.31,438.41 525.2,439.11 C525.08,439.81 525.02,440.52 525,441.23 C524.99,441.93 525.03,442.64 525.12,443.34 C525.21,444.05 525.35,444.75 525.54,445.45 C525.73,446.15 525.97,446.84 526.26,447.53 C526.55,448.22 526.9,448.9 527.29,449.58 C527.68,450.25 528.12,450.92 528.61,451.58 C529.09,452.24 529.63,452.89 530.21,453.53 C530.79,454.16 531.42,454.79 532.09,455.4 C532.77,456.02 533.49,456.62 534.24,457.2 C535,457.78 535.81,458.35 536.65,458.91 C537.49,459.46 538.37,460 539.29,460.51 C540.21,461.03 541.17,461.53 542.16,462.01 C543.16,462.49 544.18,462.95 545.24,463.39 C546.3,463.83 547.4,464.25 548.51,464.65 C549.63,465.05 550.78,465.42 551.96,465.77 C553.13,466.13 554.33,466.45 555.56,466.76 C556.78,467.06 558.02,467.34 559.29,467.6 C560.55,467.85 561.83,468.09 563.13,468.29 C564.42,468.5 565.74,468.68 567.06,468.83 C568.38,468.98 569.71,469.11 571.05,469.21 C572.39,469.31 573.74,469.39 575.1,469.44 C576.45,469.48 577.8,469.5 579.16,469.5 C580.51,469.49 581.87,469.46 583.22,469.4 C584.57,469.34 585.91,469.26 587.25,469.15 C588.59,469.04 589.92,468.9 591.24,468.73 C592.55,468.57 593.86,468.38 595.15,468.16 C596.44,467.95 597.72,467.71 598.97,467.44 C600.23,467.18 601.46,466.89 602.68,466.57 C603.89,466.26 605.08,465.92 606.24,465.56 C607.41,465.2 608.55,464.81 609.66,464.41 C610.76,464 611.84,463.57 612.89,463.13 C613.94,462.68 614.95,462.21 615.93,461.72 C616.91,461.23 617.85,460.73 618.76,460.2 C619.66,459.68 620.53,459.13 621.35,458.57 C622.18,458.01 622.97,457.44 623.71,456.85 C624.45,456.26 625.15,455.65 625.8,455.03 C626.46,454.42 627.07,453.78 627.63,453.14 C628.2,452.5 628.71,451.85 629.18,451.19 C629.65,450.52 630.07,449.85 630.44,449.17 C630.81,448.49 631.14,447.81 631.41,447.12 C631.68,446.43 631.9,445.73 632.07,445.03 C632.24,444.33 632.36,443.62 632.43,442.92 C632.5,442.21 632.52,441.51 632.48,440.8 C632.45,440.1 632.36,439.39 632.23,438.69 C632.09,437.99 631.91,437.29 631.67,436.59 C631.43,435.9 631.14,435.21 630.8,434.52 C630.47,433.84 630.08,433.16 629.64,432.49 C629.21,431.83 628.72,431.17 628.19,430.52 C627.66,429.87 627.08,429.23 626.46,428.6 C625.84,427.98 625.16,427.36 624.45,426.76 C623.74,426.16 622.98,425.58 622.18,425.01 C621.39,424.44 620.09,423.62 619.67,423.34" fill="none" stroke="#1c1c1c" stroke-width="1.1" />
<path d="M552.5,417.5 L538.25,425.98 L536.37,421.35 Z" fill="#000" stroke="#000" stroke-width="0.4"/>
<path d="M605,417.5 L620.59,421.02 L618.74,425.67 Z" fill="#000" stroke="#000" stroke-width="0.4"/>
<g transform="translate(555 418.75) rotate(0) translate(0 0) scale(12.7226 -13.3000)" fill="none" stroke="#141414" stroke-width="1.12" stroke-linecap="round" stroke-linejoin="round"><path transform="translate(0.0000 0)" d="M0,0.64 L0.7,0.64 M0.35,0.97 L0.35,0.33 M0,0.13 L0.7,0.13" vector-effect="non-scaling-stroke"/><path transform="translate(0.9800 0)" d="M0.02,0.8 L0.24,1 L0.24,0 M0,0 L0.5,0" vector-effect="non-scaling-stroke"/><path transform="translate(1.7100 0)" d="M0.35,0.55 C0.15,0.55 0.05,0.65 0.05,0.78 C0.05,0.91 0.17,1 0.35,1 C0.53,1 0.65,0.91 0.65,0.78 C0.65,0.65 0.55,0.55 0.35,0.55 C0.12,0.55 0,0.43 0,0.28 C0,0.11 0.13,0 0.35,0 C0.57,0 0.7,0.11 0.7,0.28 C0.7,0.43 0.58,0.55 0.35,0.55 Z" vector-effect="non-scaling-stroke"/><path transform="translate(2.6900 0)" d="M0.3,1 C0.1,1 0,0.85 0,0.65 L0,0.35 C0,0.15 0.1,0 0.3,0 C0.5,0 0.6,0.15 0.6,0.35 L0.6,0.65 C0.6,0.85 0.5,1 0.3,1 Z" vector-effect="non-scaling-stroke"/><path transform="translate(3.5700 0)" d="M0.18,0.98 L0.36,0.8 L0.18,0.62 L0,0.8 Z" vector-effect="non-scaling-stroke"/></g>
<path d="M326.49,723.2 C326.04,723.47 324.67,724.28 323.82,724.84 C322.98,725.41 322.17,725.99 321.41,726.59 C320.65,727.19 319.93,727.8 319.27,728.43 C318.6,729.06 317.97,729.7 317.4,730.35 C316.82,731 316.3,731.66 315.82,732.33 C315.34,733.01 314.92,733.69 314.54,734.38 C314.16,735.07 313.84,735.76 313.57,736.47 C313.29,737.17 313.07,737.88 312.9,738.59 C312.73,739.3 312.62,740.01 312.56,740.73 C312.49,741.44 312.48,742.16 312.53,742.88 C312.57,743.59 312.67,744.31 312.81,745.02 C312.96,745.73 313.17,746.44 313.42,747.15 C313.67,747.85 313.98,748.55 314.34,749.24 C314.69,749.93 315.1,750.62 315.56,751.29 C316.02,751.97 316.53,752.64 317.08,753.29 C317.64,753.95 318.25,754.59 318.9,755.22 C319.55,755.85 320.25,756.47 321,757.08 C321.74,757.68 322.53,758.27 323.36,758.84 C324.19,759.41 325.06,759.97 325.98,760.51 C326.89,761.04 327.84,761.56 328.83,762.06 C329.82,762.56 330.85,763.04 331.91,763.5 C332.97,763.96 334.07,764.4 335.19,764.81 C336.32,765.23 337.47,765.62 338.66,765.99 C339.84,766.36 341.05,766.71 342.29,767.03 C343.52,767.35 344.78,767.65 346.06,767.92 C347.34,768.19 348.64,768.43 349.95,768.65 C351.27,768.87 352.6,769.07 353.94,769.23 C355.28,769.4 356.64,769.54 358.01,769.65 C359.37,769.76 360.74,769.85 362.12,769.91 C363.5,769.97 364.88,770 366.26,770 C367.64,770 369.02,769.98 370.4,769.93 C371.78,769.88 373.15,769.8 374.52,769.69 C375.88,769.58 377.24,769.45 378.59,769.29 C379.94,769.13 381.27,768.94 382.59,768.73 C383.91,768.51 385.21,768.27 386.5,768.01 C387.78,767.74 389.04,767.45 390.28,767.14 C391.52,766.82 392.74,766.48 393.93,766.12 C395.12,765.76 396.28,765.37 397.42,764.96 C398.55,764.55 399.65,764.11 400.72,763.66 C401.79,763.21 402.82,762.73 403.82,762.24 C404.82,761.74 405.78,761.23 406.7,760.69 C407.63,760.16 408.51,759.61 409.35,759.04 C410.19,758.47 410.99,757.88 411.74,757.29 C412.5,756.69 413.21,756.07 413.87,755.44 C414.53,754.81 415.15,754.17 415.72,753.52 C416.29,752.87 416.81,752.2 417.28,751.53 C417.75,750.85 418.17,750.17 418.54,749.48 C418.91,748.79 419.22,748.09 419.49,747.39 C419.76,746.69 419.97,745.98 420.13,745.27 C420.29,744.56 420.4,743.84 420.46,743.13 C420.51,742.41 420.51,741.69 420.46,740.98 C420.41,740.26 420.31,739.55 420.15,738.83 C420,738.12 419.79,737.41 419.53,736.71 C419.27,736.01 418.95,735.31 418.59,734.62 C418.23,733.93 417.81,733.24 417.34,732.57 C416.88,731.89 416.36,731.23 415.8,730.57 C415.24,729.92 414.62,729.28 413.97,728.65 C413.31,728.02 412.6,727.4 411.85,726.8 C411.1,726.2 410.31,725.61 409.47,725.04 C408.63,724.47 407.27,723.66 406.84,723.38" fill="none" stroke="#1c1c1c" stroke-width="1.1" />
<path d="M341,716 L327.6,725.44 L325.37,720.96 Z" fill="#000" stroke="#000" stroke-width="0.4"/>
<path d="M392.5,716 L407.98,721.16 L405.69,725.61 Z" fill="#000" stroke="#000" stroke-width="0.4"/>
<g transform="translate(346 718.75) rotate(0) translate(0 0) scale(13.1043 -13.3000)" fill="none" stroke="#141414" stroke-width="1.12" stroke-linecap="round" stroke-linejoin="round"><path transform="translate(0.0000 0)" d="M0,0.64 L0.7,0.64 M0.35,0.97 L0.35,0.33 M0,0.13 L0.7,0.13" vector-effect="non-scaling-stroke"/><path transform="translate(0.9800 0)" d="M0.02,0.8 L0.24,1 L0.24,0 M0,0 L0.5,0" vector-effect="non-scaling-stroke"/><path transform="translate(1.7100 0)" d="M0.35,0.55 C0.15,0.55 0.05,0.65 0.05,0.78 C0.05,0.91 0.17,1 0.35,1 C0.53,1 0.65,0.91 0.65,0.78 C0.65,0.65 0.55,0.55 0.35,0.55 C0.12,0.55 0,0.43 0,0.28 C0,0.11 0.13,0 0.35,0 C0.57,0 0.7,0.11 0.7,0.28 C0.7,0.43 0.58,0.55 0.35,0.55 Z" vector-effect="non-scaling-stroke"/><path transform="translate(2.6900 0)" d="M0.3,1 C0.1,1 0,0.85 0,0.65 L0,0.35 C0,0.15 0.1,0 0.3,0 C0.5,0 0.6,0.15 0.6,0.35 L0.6,0.65 C0.6,0.85 0.5,1 0.3,1 Z" vector-effect="non-scaling-stroke"/><path transform="translate(3.5700 0)" d="M0.18,0.98 L0.36,0.8 L0.18,0.62 L0,0.8 Z" vector-effect="non-scaling-stroke"/></g>
<g transform="translate(829 284) rotate(0) translate(0 0) scale(13.0159 -13.3000)" fill="none" stroke="#141414" stroke-width="1.12" stroke-linecap="round" stroke-linejoin="round"><path transform="translate(0.0000 0)" d="M0,0.64 L0.7,0.64 M0.35,0.97 L0.35,0.33 M0,0.13 L0.7,0.13" vector-effect="non-scaling-stroke"/><path transform="translate(0.9800 0)" d="M0.65,0.68 C0.65,0.5 0.52,0.38 0.33,0.38 C0.13,0.38 0,0.5 0,0.68 C0,0.88 0.13,1 0.33,1 C0.53,1 0.65,0.88 0.65,0.68 L0.65,0.5 C0.65,0.3 0.5,0.1 0.2,0" vector-effect="non-scaling-stroke"/><path transform="translate(1.9100 0)" d="M0.3,1 C0.1,1 0,0.85 0,0.65 L0,0.35 C0,0.15 0.1,0 0.3,0 C0.5,0 0.6,0.15 0.6,0.35 L0.6,0.65 C0.6,0.85 0.5,1 0.3,1 Z" vector-effect="non-scaling-stroke"/><path transform="translate(2.7900 0)" d="M0.18,0.98 L0.36,0.8 L0.18,0.62 L0,0.8 Z" vector-effect="non-scaling-stroke"/></g>
<path d="M1163.75,234.4 C1165.12,234.8 1169.08,235.45 1172,236.8 C1174.92,238.15 1178.58,240.13 1181.25,242.5 C1183.92,244.87 1186.12,248.08 1188,251 C1189.88,253.92 1191.33,257.08 1192.5,260 C1193.67,262.92 1194.48,265.58 1195,268.5 C1195.52,271.42 1195.6,274.33 1195.6,277.5 C1195.6,280.67 1195.52,284.17 1195,287.5 C1194.48,290.83 1193.42,294.67 1192.5,297.5 C1191.58,300.33 1190.75,302.21 1189.5,304.5 C1188.25,306.79 1186.67,309.33 1185,311.25 C1183.33,313.17 1181.58,314.75 1179.5,316 C1177.42,317.25 1173.67,318.29 1172.5,318.75" fill="none" stroke="#1c1c1c" stroke-width="1.1" />
<path d="M1146.9,238.5 L1163.16,231.97 L1164.34,236.83 Z" fill="#000" stroke="#000" stroke-width="0.4"/>
<path d="M1155,317.25 L1172.22,316.26 L1171.78,321.24 Z" fill="#000" stroke="#000" stroke-width="0.4"/>
<g transform="translate(1130 283.1) rotate(0) translate(0 0) scale(12.7226 -13.2000)" fill="none" stroke="#141414" stroke-width="1.12" stroke-linecap="round" stroke-linejoin="round"><path transform="translate(0.0000 0)" d="M0,0.64 L0.7,0.64 M0.35,0.97 L0.35,0.33 M0,0.13 L0.7,0.13" vector-effect="non-scaling-stroke"/><path transform="translate(0.9800 0)" d="M0.02,0.8 L0.24,1 L0.24,0 M0,0 L0.5,0" vector-effect="non-scaling-stroke"/><path transform="translate(1.7100 0)" d="M0.35,0.55 C0.15,0.55 0.05,0.65 0.05,0.78 C0.05,0.91 0.17,1 0.35,1 C0.53,1 0.65,0.91 0.65,0.78 C0.65,0.65 0.55,0.55 0.35,0.55 C0.12,0.55 0,0.43 0,0.28 C0,0.11 0.13,0 0.35,0 C0.57,0 0.7,0.11 0.7,0.28 C0.7,0.43 0.58,0.55 0.35,0.55 Z" vector-effect="non-scaling-stroke"/><path transform="translate(2.6900 0)" d="M0.3,1 C0.1,1 0,0.85 0,0.65 L0,0.35 C0,0.15 0.1,0 0.3,0 C0.5,0 0.6,0.15 0.6,0.35 L0.6,0.65 C0.6,0.85 0.5,1 0.3,1 Z" vector-effect="non-scaling-stroke"/><path transform="translate(3.5700 0)" d="M0.18,0.98 L0.36,0.8 L0.18,0.62 L0,0.8 Z" vector-effect="non-scaling-stroke"/></g>
<path d="M953.75,262 L1028.75,251.25" fill="none" stroke="#1c1c1c" stroke-width="1.15" />
<path d="M965.6,358.75 L1041.25,347" fill="none" stroke="#1c1c1c" stroke-width="1.15" />
<path d="M1028.2,251.6 L1040.2,347.2" fill="none" stroke="#1c1c1c" stroke-width="1.15" />
<path d="M1028.2,251.6 L1031.74,263.75 L1027.77,264.25 Z" fill="#000" stroke="#000" stroke-width="0.4"/>
<path d="M1040.2,347.2 L1036.66,335.05 L1040.63,334.55 Z" fill="#000" stroke="#000" stroke-width="0.4"/>
<g transform="translate(1036.6 298.83) rotate(82.85) translate(-11.75 0) scale(14.8734 -13.3000)" fill="none" stroke="#141414" stroke-width="1.12" stroke-linecap="round" stroke-linejoin="round"><path transform="translate(0.0000 0)" d="M0,1 L0.65,1 L0.2,0" vector-effect="non-scaling-stroke"/><path transform="translate(0.9300 0)" d="M0.6,1 L0.05,1 L0,0.55 C0.1,0.62 0.2,0.65 0.33,0.65 C0.53,0.65 0.65,0.5 0.65,0.33 C0.65,0.13 0.52,0 0.32,0 C0.17,0 0.05,0.07 0,0.2" vector-effect="non-scaling-stroke"/></g>
<path d="M961.25,245 L1058.75,230" fill="none" stroke="#1c1c1c" stroke-width="1.15" />
<path d="M976.9,373.75 L1073.75,358" fill="none" stroke="#1c1c1c" stroke-width="1.15" />
<path d="M1057.8,230.3 L1072.8,358.2" fill="none" stroke="#1c1c1c" stroke-width="1.15" />
<path d="M1057.8,230.3 L1061.24,242.48 L1057.27,242.95 Z" fill="#000" stroke="#000" stroke-width="0.4"/>
<path d="M1072.8,358.2 L1069.36,346.02 L1073.33,345.55 Z" fill="#000" stroke="#000" stroke-width="0.4"/>
<g transform="translate(1066.7 293.87) rotate(83.31) translate(-13.75 0) scale(12.4434 -13.3000)" fill="none" stroke="#141414" stroke-width="1.12" stroke-linecap="round" stroke-linejoin="round"><path transform="translate(0.0000 0)" d="M0.02,0.8 L0.24,1 L0.24,0 M0,0 L0.5,0" vector-effect="non-scaling-stroke"/><path transform="translate(0.7300 0)" d="M0.3,1 C0.1,1 0,0.85 0,0.65 L0,0.35 C0,0.15 0.1,0 0.3,0 C0.5,0 0.6,0.15 0.6,0.35 L0.6,0.65 C0.6,0.85 0.5,1 0.3,1 Z" vector-effect="non-scaling-stroke"/><path transform="translate(1.6100 0)" d="M0.3,1 C0.1,1 0,0.85 0,0.65 L0,0.35 C0,0.15 0.1,0 0.3,0 C0.5,0 0.6,0.15 0.6,0.35 L0.6,0.65 C0.6,0.85 0.5,1 0.3,1 Z" vector-effect="non-scaling-stroke"/></g>
<path d="M960,230.5 L1083.75,210" fill="none" stroke="#1c1c1c" stroke-width="1.15" />
<path d="M972,388.6 L1102.5,367.5" fill="none" stroke="#1c1c1c" stroke-width="1.15" />
<path d="M1082.6,210.3 L1101.3,367.6" fill="none" stroke="#1c1c1c" stroke-width="1.15" />
<path d="M1082.6,210.3 L1086.06,222.48 L1082.09,222.95 Z" fill="#000" stroke="#000" stroke-width="0.4"/>
<path d="M1101.3,367.6 L1097.84,355.42 L1101.81,354.95 Z" fill="#000" stroke="#000" stroke-width="0.4"/>
<g transform="translate(1094.2 289.29) rotate(83.22) translate(-15 0) scale(12.9870 -13.3000)" fill="none" stroke="#141414" stroke-width="1.12" stroke-linecap="round" stroke-linejoin="round"><path transform="translate(0.0000 0)" d="M0.02,0.8 L0.24,1 L0.24,0 M0,0 L0.5,0" vector-effect="non-scaling-stroke"/><path transform="translate(0.7300 0)" d="M0,0.78 C0.02,0.92 0.15,1 0.35,1 C0.55,1 0.7,0.9 0.7,0.74 C0.7,0.6 0.6,0.52 0.4,0.45 C0.15,0.36 0,0.25 0,0 L0.7,0" vector-effect="non-scaling-stroke"/><path transform="translate(1.7100 0)" d="M0.3,1 C0.1,1 0,0.85 0,0.65 L0,0.35 C0,0.15 0.1,0 0.3,0 C0.5,0 0.6,0.15 0.6,0.35 L0.6,0.65 C0.6,0.85 0.5,1 0.3,1 Z" vector-effect="non-scaling-stroke"/></g>
<path d="M909.6,368.75 L915.6,418.75" fill="none" stroke="#1c1c1c" stroke-width="1.15" />
<path d="M965.6,359.4 L971.25,410" fill="none" stroke="#1c1c1c" stroke-width="1.15" />
<path d="M915.4,416.3 L971,407.6" fill="none" stroke="#1c1c1c" stroke-width="1.15" />
<path d="M915.4,416.3 L927.44,412.39 L928.06,416.34 Z" fill="#000" stroke="#000" stroke-width="0.4"/>
<path d="M971,407.6 L958.96,411.51 L958.34,407.56 Z" fill="#000" stroke="#000" stroke-width="0.4"/>
<g transform="translate(942.53 409.07) rotate(-8.89) translate(-12 0) scale(15.1899 -13.3000)" fill="none" stroke="#141414" stroke-width="1.12" stroke-linecap="round" stroke-linejoin="round"><path transform="translate(0.0000 0)" d="M0,1 L0.65,1 L0.2,0" vector-effect="non-scaling-stroke"/><path transform="translate(0.9300 0)" d="M0.6,1 L0.05,1 L0,0.55 C0.1,0.62 0.2,0.65 0.33,0.65 C0.53,0.65 0.65,0.5 0.65,0.33 C0.65,0.13 0.52,0 0.32,0 C0.17,0 0.05,0.07 0,0.2" vector-effect="non-scaling-stroke"/></g>
<path d="M902.25,386.25 L908.75,443.75" fill="none" stroke="#1c1c1c" stroke-width="1.15" />
<path d="M976.9,374.4 L983.75,431.25" fill="none" stroke="#1c1c1c" stroke-width="1.15" />
<path d="M908.5,441.3 L983.5,429.5" fill="none" stroke="#1c1c1c" stroke-width="1.15" />
<path d="M908.5,441.3 L920.54,437.38 L921.16,441.33 Z" fill="#000" stroke="#000" stroke-width="0.4"/>
<path d="M983.5,429.5 L971.46,433.42 L970.84,429.47 Z" fill="#000" stroke="#000" stroke-width="0.4"/>
<g transform="translate(945.63 432.82) rotate(-8.94) translate(-14 0) scale(12.6697 -13.3000)" fill="none" stroke="#141414" stroke-width="1.12" stroke-linecap="round" stroke-linejoin="round"><path transform="translate(0.0000 0)" d="M0.02,0.8 L0.24,1 L0.24,0 M0,0 L0.5,0" vector-effect="non-scaling-stroke"/><path transform="translate(0.7300 0)" d="M0.3,1 C0.1,1 0,0.85 0,0.65 L0,0.35 C0,0.15 0.1,0 0.3,0 C0.5,0 0.6,0.15 0.6,0.35 L0.6,0.65 C0.6,0.85 0.5,1 0.3,1 Z" vector-effect="non-scaling-stroke"/><path transform="translate(1.6100 0)" d="M0.3,1 C0.1,1 0,0.85 0,0.65 L0,0.35 C0,0.15 0.1,0 0.3,0 C0.5,0 0.6,0.15 0.6,0.35 L0.6,0.65 C0.6,0.85 0.5,1 0.3,1 Z" vector-effect="non-scaling-stroke"/></g>
<path d="M891.25,380 L901.25,466.25" fill="none" stroke="#1c1c1c" stroke-width="1.15" />
<path d="M984.4,380 L995,451.25" fill="none" stroke="#1c1c1c" stroke-width="1.15" />
<path d="M901,464.4 L994.7,449.4" fill="none" stroke="#1c1c1c" stroke-width="1.15" />
<path d="M901,464.4 L913.03,460.45 L913.66,464.4 Z" fill="#000" stroke="#000" stroke-width="0.4"/>
<path d="M994.7,449.4 L982.67,453.35 L982.04,449.4 Z" fill="#000" stroke="#000" stroke-width="0.4"/>
<g transform="translate(947.55 454.07) rotate(-9.1) translate(-14.75 0) scale(12.7706 -13.3000)" fill="none" stroke="#141414" stroke-width="1.12" stroke-linecap="round" stroke-linejoin="round"><path transform="translate(0.0000 0)" d="M0.02,0.8 L0.24,1 L0.24,0 M0,0 L0.5,0" vector-effect="non-scaling-stroke"/><path transform="translate(0.7300 0)" d="M0,0.78 C0.02,0.92 0.15,1 0.35,1 C0.55,1 0.7,0.9 0.7,0.74 C0.7,0.6 0.6,0.52 0.4,0.45 C0.15,0.36 0,0.25 0,0 L0.7,0" vector-effect="non-scaling-stroke"/><path transform="translate(1.7100 0)" d="M0.3,1 C0.1,1 0,0.85 0,0.65 L0,0.35 C0,0.15 0.1,0 0.3,0 C0.5,0 0.6,0.15 0.6,0.35 L0.6,0.65 C0.6,0.85 0.5,1 0.3,1 Z" vector-effect="non-scaling-stroke"/></g>
<path d="M847.5,289.4 C849.3,289.78 855.1,290.35 858.3,291.7 C861.5,293.05 864.47,295.15 866.7,297.5 C868.93,299.85 870.03,302.47 871.7,305.8 C873.37,309.13 875.45,313.47 876.7,317.5 C877.95,321.53 878.93,325.7 879.2,330 C879.47,334.3 878.72,339.42 878.3,343.3 C877.88,347.18 877.53,350.23 876.7,353.3 C875.87,356.37 874.97,358.92 873.3,361.7 C871.63,364.48 869.33,367.92 866.7,370 C864.07,372.08 859.03,373.5 857.5,374.2" fill="none" stroke="#1c1c1c" stroke-width="1.1" />
<path d="M832.5,293.3 L846.84,286.79 L848.16,291.61 Z" fill="#000" stroke="#000" stroke-width="0.4"/>
<path d="M840,372.5 L856.95,371.71 L856.45,376.69 Z" fill="#000" stroke="#000" stroke-width="0.4"/>
<path d="M835,334.2 L860,330.4" fill="none" stroke="#1c1c1c" stroke-width="1" stroke-dasharray="7 2 2 2" />
</svg>
</body></html>
